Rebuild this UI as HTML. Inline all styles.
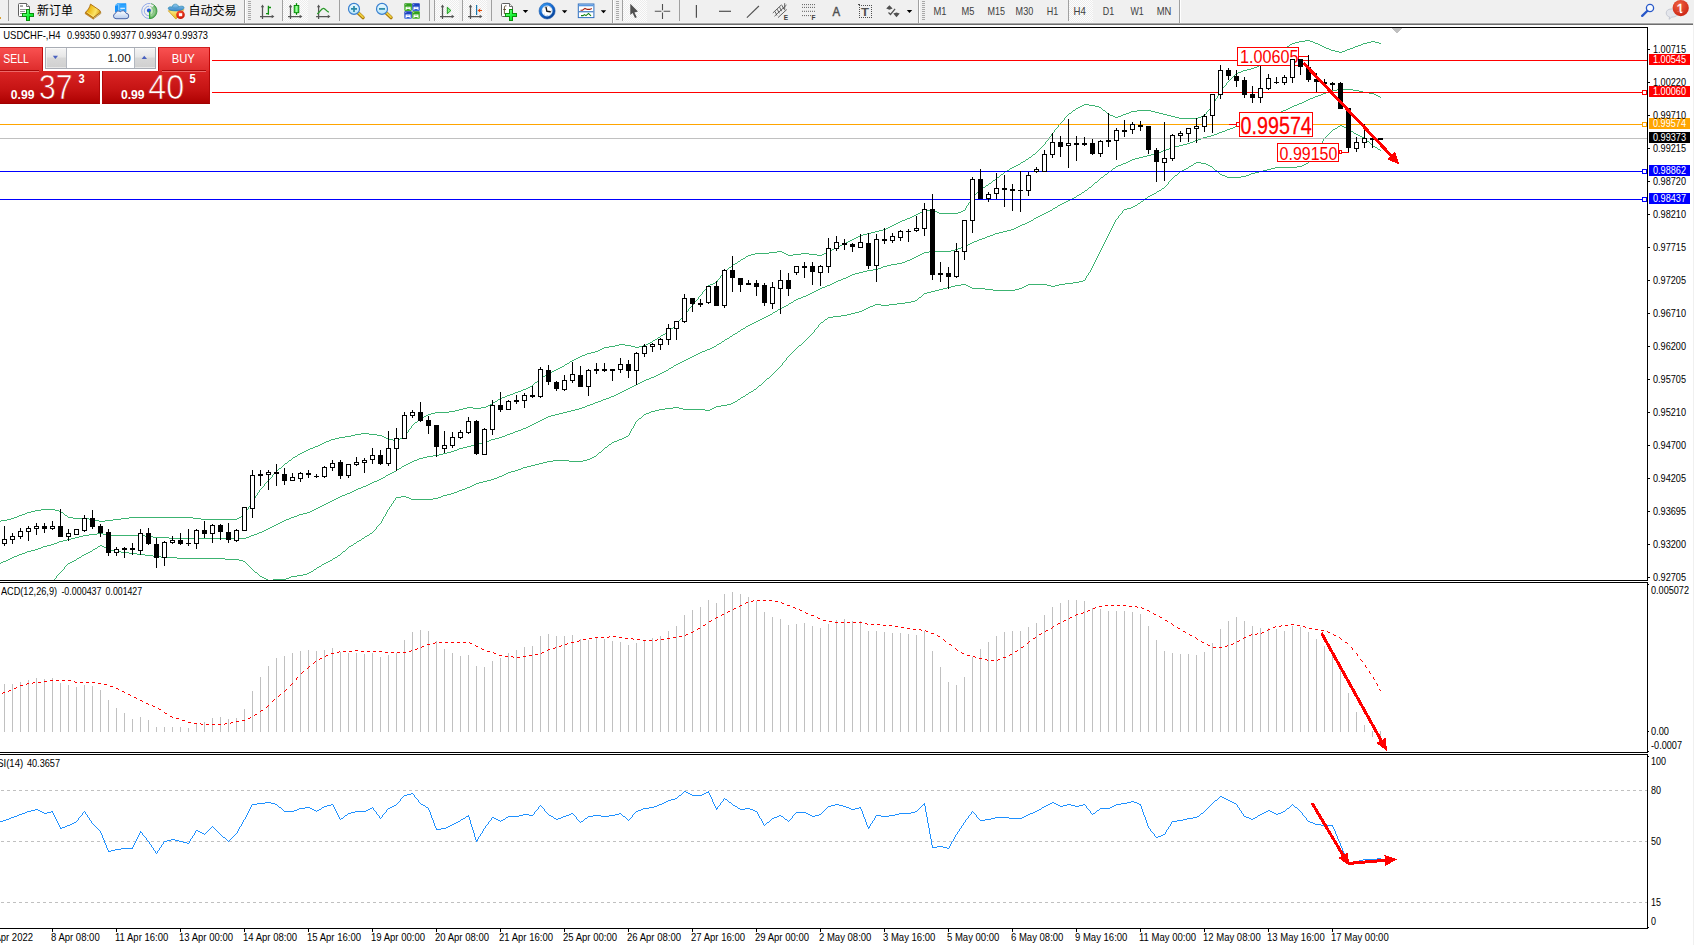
<!DOCTYPE html>
<html><head><meta charset="utf-8"><title>USDCHF-,H4</title>
<style>
html,body{margin:0;padding:0;background:#fff;}
body{width:1694px;height:945px;position:relative;overflow:hidden;font-family:"Liberation Sans", sans-serif;}
#tb{position:absolute;left:0;top:0;width:1694px;height:23px;background:#f0f0f0;}
.ln{position:absolute;left:0;height:1px;}
.cjk{position:absolute;font-family:"Liberation Sans", "Noto Sans CJK SC", sans-serif;font-size:12px;color:#000;line-height:14px;white-space:nowrap;}
.tf{position:absolute;top:5px;font-size:9.7px;line-height:12px;color:#303030;white-space:nowrap;}

</style></head><body>
<div id="tb"></div>
<div class="ln" style="top:22px;width:1693px;background:#f4f4f4"></div>
<div class="ln" style="top:23px;width:1693px;background:#a8a8a8"></div>
<div class="ln" style="top:24px;width:1693px;background:#6e6e6e"></div>
<div style="position:absolute;left:1693px;top:0;width:1px;height:945px;background:#f0f0f0"></div>
<svg width="1694" height="945" viewBox="0 0 1694 945" style="position:absolute;left:0;top:0" shape-rendering="crispEdges"><defs><clipPath id="cm"><rect x="0" y="28" width="1647" height="552"/></clipPath><clipPath id="cd"><rect x="0" y="583" width="1647" height="169"/></clipPath><clipPath id="cr"><rect x="0" y="755" width="1647" height="173"/></clipPath></defs><path d="M0 521h1v1h-1zM1 520h6v1h-6zM7 519h4v1h-4zM11 518h3v1h-3zM14 517h3v1h-3zM17 516h2v1h-2zM19 515h3v1h-3zM22 514h3v1h-3zM25 513h2v1h-2zM27 512h4v1h-4zM31 511h4v1h-4zM35 510h6v1h-6zM41 509h14v1h-14zM55 510h4v1h-4zM59 511h2v1h-2zM61 512h2v1h-2zM63 513h1v1h-1zM64 514h1v1h-1zM65 515h2v1h-2zM67 516h1v1h-1zM68 517h5v1h-5zM73 518h16v1h-16zM89 519h6v1h-6zM95 520h4v1h-4zM99 521h6v1h-6zM105 520h8v1h-8zM113 519h8v1h-8zM121 518h8v1h-8zM129 517h64v1h-64zM193 518h8v1h-8zM201 519h36v1h-36zM237 518h2v1h-2zM239 517h2v1h-2zM241 516h1v1h-1zM242 515h2v1h-2zM244 514h1v1h-1zM245 512h1v2h-1zM246 510h1v2h-1zM247 509h1v1h-1zM248 507h1v2h-1zM249 506h1v1h-1zM250 504h1v2h-1zM251 502h1v2h-1zM252 501h1v1h-1zM253 499h1v2h-1zM254 498h1v1h-1zM255 496h1v2h-1zM256 495h1v1h-1zM257 493h1v2h-1zM258 492h1v1h-1zM259 490h1v2h-1zM260 489h1v1h-1zM261 488h1v1h-1zM262 487h1v1h-1zM263 486h1v1h-1zM264 484h1v2h-1zM265 483h1v1h-1zM266 482h1v1h-1zM267 481h1v1h-1zM268 480h1v1h-1zM269 479h1v1h-1zM270 478h1v1h-1zM271 477h1v1h-1zM272 475h1v2h-1zM273 474h1v1h-1zM274 473h1v1h-1zM275 472h1v1h-1zM276 471h1v1h-1zM277 470h1v1h-1zM278 469h1v1h-1zM279 468h2v1h-2zM281 467h1v1h-1zM282 466h1v1h-1zM283 465h1v1h-1zM284 464h1v1h-1zM285 463h2v1h-2zM287 462h1v1h-1zM288 461h1v1h-1zM289 460h2v1h-2zM291 459h1v1h-1zM292 458h1v1h-1zM293 457h2v1h-2zM295 456h2v1h-2zM297 455h1v1h-1zM298 454h2v1h-2zM300 453h2v1h-2zM302 452h2v1h-2zM304 451h2v1h-2zM306 450h2v1h-2zM308 449h2v1h-2zM310 448h3v1h-3zM313 447h2v1h-2zM315 446h3v1h-3zM318 445h2v1h-2zM320 444h2v1h-2zM322 443h2v1h-2zM324 442h2v1h-2zM326 441h3v1h-3zM329 440h2v1h-2zM331 439h4v1h-4zM335 438h4v1h-4zM339 437h6v1h-6zM345 436h6v1h-6zM351 435h4v1h-4zM355 434h6v1h-6zM361 433h8v1h-8zM369 434h8v1h-8zM377 435h5v1h-5zM382 436h2v1h-2zM384 437h2v1h-2zM386 438h2v1h-2zM388 439h5v1h-5zM393 440h5v1h-5zM398 439h2v1h-2zM400 438h2v1h-2zM402 437h2v1h-2zM404 436h1v1h-1zM405 434h1v2h-1zM406 433h1v1h-1zM407 432h1v1h-1zM408 430h1v2h-1zM409 429h1v1h-1zM410 428h1v1h-1zM411 426h1v2h-1zM412 425h1v1h-1zM413 424h1v1h-1zM414 423h1v1h-1zM415 422h2v1h-2zM417 421h1v1h-1zM418 420h1v1h-1zM419 419h1v1h-1zM420 418h2v1h-2zM422 417h2v1h-2zM424 416h2v1h-2zM426 415h2v1h-2zM428 414h3v1h-3zM431 413h4v1h-4zM435 412h14v1h-14zM449 411h6v1h-6zM455 410h4v1h-4zM459 409h4v1h-4zM463 408h4v1h-4zM467 407h6v1h-6zM473 408h8v1h-8zM481 407h5v1h-5zM486 406h2v1h-2zM488 405h2v1h-2zM490 404h2v1h-2zM492 403h1v1h-1zM493 402h2v1h-2zM495 401h2v1h-2zM497 400h1v1h-1zM498 399h2v1h-2zM500 398h2v1h-2zM502 397h3v1h-3zM505 396h2v1h-2zM507 395h3v1h-3zM510 394h3v1h-3zM513 393h2v1h-2zM515 392h3v1h-3zM518 391h3v1h-3zM521 390h2v1h-2zM523 389h3v1h-3zM526 388h2v1h-2zM528 387h2v1h-2zM530 386h2v1h-2zM532 385h1v1h-1zM533 384h1v1h-1zM534 383h1v1h-1zM535 382h2v1h-2zM537 381h1v1h-1zM538 380h1v1h-1zM539 379h1v1h-1zM540 378h1v1h-1zM541 377h2v1h-2zM543 376h2v1h-2zM545 375h1v1h-1zM546 374h2v1h-2zM548 373h2v1h-2zM550 372h2v1h-2zM552 371h2v1h-2zM554 370h2v1h-2zM556 369h2v1h-2zM558 368h2v1h-2zM560 367h2v1h-2zM562 366h2v1h-2zM564 365h1v1h-1zM565 364h2v1h-2zM567 363h2v1h-2zM569 362h1v1h-1zM570 361h2v1h-2zM572 360h2v1h-2zM574 359h2v1h-2zM576 358h2v1h-2zM578 357h2v1h-2zM580 356h2v1h-2zM582 355h3v1h-3zM585 354h2v1h-2zM587 353h4v1h-4zM591 352h4v1h-4zM595 351h3v1h-3zM598 350h2v1h-2zM600 349h2v1h-2zM602 348h2v1h-2zM604 347h5v1h-5zM609 346h6v1h-6zM615 345h4v1h-4zM619 344h6v1h-6zM625 345h6v1h-6zM631 346h4v1h-4zM635 347h4v1h-4zM639 346h4v1h-4zM643 345h3v1h-3zM646 344h2v1h-2zM648 343h2v1h-2zM650 342h2v1h-2zM652 341h1v1h-1zM653 340h2v1h-2zM655 339h2v1h-2zM657 338h1v1h-1zM658 337h2v1h-2zM660 336h1v1h-1zM661 335h2v1h-2zM663 334h2v1h-2zM665 333h1v1h-1zM666 332h2v1h-2zM668 331h1v1h-1zM669 330h1v1h-1zM670 329h1v1h-1zM671 328h2v1h-2zM673 327h1v1h-1zM674 326h1v1h-1zM675 325h1v1h-1zM676 324h1v1h-1zM677 323h1v1h-1zM678 321h1v2h-1zM679 320h1v1h-1zM680 319h1v1h-1zM681 318h1v1h-1zM682 316h1v2h-1zM683 315h1v1h-1zM684 314h1v1h-1zM685 313h1v1h-1zM686 312h1v1h-1zM687 311h1v1h-1zM688 309h1v2h-1zM689 308h1v1h-1zM690 307h1v1h-1zM691 306h1v1h-1zM692 305h1v1h-1zM693 304h1v1h-1zM694 302h1v2h-1zM695 301h1v1h-1zM696 300h1v1h-1zM697 299h1v1h-1zM698 297h1v2h-1zM699 296h1v1h-1zM700 295h1v1h-1zM701 294h1v1h-1zM702 292h1v2h-1zM703 291h1v1h-1zM704 290h1v1h-1zM705 289h1v1h-1zM706 287h1v2h-1zM707 286h1v1h-1zM708 285h2v1h-2zM710 284h3v1h-3zM713 283h2v1h-2zM715 282h2v1h-2zM717 280h1v2h-1zM718 279h1v1h-1zM719 278h1v1h-1zM720 276h1v2h-1zM721 275h1v1h-1zM722 274h1v1h-1zM723 272h1v2h-1zM724 271h1v1h-1zM725 270h2v1h-2zM727 269h1v1h-1zM728 268h1v1h-1zM729 267h2v1h-2zM731 266h1v1h-1zM732 265h1v1h-1zM733 264h2v1h-2zM735 263h2v1h-2zM737 262h1v1h-1zM738 261h2v1h-2zM740 260h1v1h-1zM741 259h2v1h-2zM743 258h2v1h-2zM745 257h1v1h-1zM746 256h2v1h-2zM748 255h3v1h-3zM751 254h4v1h-4zM755 253h14v1h-14zM769 252h8v1h-8zM777 251h5v1h-5zM782 252h2v1h-2zM784 253h2v1h-2zM786 254h2v1h-2zM788 255h5v1h-5zM793 254h8v1h-8zM801 253h8v1h-8zM809 254h8v1h-8zM817 255h5v1h-5zM822 254h2v1h-2zM824 253h2v1h-2zM826 252h2v1h-2zM828 251h2v1h-2zM830 250h2v1h-2zM832 249h2v1h-2zM834 248h2v1h-2zM836 247h2v1h-2zM838 246h2v1h-2zM840 245h2v1h-2zM842 244h2v1h-2zM844 243h2v1h-2zM846 242h2v1h-2zM848 241h2v1h-2zM850 240h2v1h-2zM852 239h2v1h-2zM854 238h2v1h-2zM856 237h2v1h-2zM858 236h2v1h-2zM860 235h3v1h-3zM863 234h4v1h-4zM867 233h4v1h-4zM871 232h4v1h-4zM875 231h4v1h-4zM879 230h4v1h-4zM883 229h3v1h-3zM886 228h2v1h-2zM888 227h2v1h-2zM890 226h2v1h-2zM892 225h2v1h-2zM894 224h2v1h-2zM896 223h2v1h-2zM898 222h2v1h-2zM900 221h2v1h-2zM902 220h3v1h-3zM905 219h2v1h-2zM907 218h3v1h-3zM910 217h2v1h-2zM912 216h2v1h-2zM914 215h2v1h-2zM916 214h2v1h-2zM918 213h2v1h-2zM920 212h2v1h-2zM922 211h2v1h-2zM924 210h10v1h-10zM934 211h3v1h-3zM937 212h2v1h-2zM939 213h19v1h-19zM958 212h3v1h-3zM961 211h2v1h-2zM963 210h2v1h-2zM965 208h1v2h-1zM966 206h1v2h-1zM967 205h1v1h-1zM968 203h1v2h-1zM969 202h1v1h-1zM970 200h1v2h-1zM971 198h1v2h-1zM972 197h1v1h-1zM973 196h1v1h-1zM974 195h1v1h-1zM975 194h1v1h-1zM976 193h1v1h-1zM977 192h1v1h-1zM978 191h1v1h-1zM979 190h1v1h-1zM980 189h1v1h-1zM981 188h2v1h-2zM983 187h2v1h-2zM985 186h1v1h-1zM986 185h2v1h-2zM988 184h1v1h-1zM989 183h2v1h-2zM991 182h1v1h-1zM992 181h1v1h-1zM993 180h2v1h-2zM995 179h1v1h-1zM996 178h1v1h-1zM997 177h2v1h-2zM999 176h1v1h-1zM1000 175h1v1h-1zM1001 174h2v1h-2zM1003 173h1v1h-1zM1004 172h1v1h-1zM1005 171h2v1h-2zM1007 170h2v1h-2zM1009 169h1v1h-1zM1010 168h2v1h-2zM1012 167h2v1h-2zM1014 166h2v1h-2zM1016 165h2v1h-2zM1018 164h2v1h-2zM1020 163h1v1h-1zM1021 162h2v1h-2zM1023 161h2v1h-2zM1025 160h1v1h-1zM1026 159h2v1h-2zM1028 158h1v1h-1zM1029 157h2v1h-2zM1031 156h1v1h-1zM1032 155h1v1h-1zM1033 154h2v1h-2zM1035 153h1v1h-1zM1036 152h1v1h-1zM1037 151h1v1h-1zM1038 150h1v1h-1zM1039 149h1v1h-1zM1040 148h1v1h-1zM1041 147h1v1h-1zM1042 146h1v1h-1zM1043 145h1v1h-1zM1044 144h1v1h-1zM1045 142h1v2h-1zM1046 141h1v1h-1zM1047 140h1v1h-1zM1048 138h1v2h-1zM1049 137h1v1h-1zM1050 136h1v1h-1zM1051 134h1v2h-1zM1052 133h1v1h-1zM1053 132h1v1h-1zM1054 130h1v2h-1zM1055 129h1v1h-1zM1056 128h1v1h-1zM1057 127h1v1h-1zM1058 125h1v2h-1zM1059 124h1v1h-1zM1060 123h1v1h-1zM1061 122h1v1h-1zM1062 121h1v1h-1zM1063 120h1v1h-1zM1064 118h1v2h-1zM1065 117h1v1h-1zM1066 116h1v1h-1zM1067 115h1v1h-1zM1068 114h1v1h-1zM1069 113h2v1h-2zM1071 112h1v1h-1zM1072 111h1v1h-1zM1073 110h2v1h-2zM1075 109h1v1h-1zM1076 108h2v1h-2zM1078 107h2v1h-2zM1080 106h2v1h-2zM1082 105h2v1h-2zM1084 104h5v1h-5zM1089 105h6v1h-6zM1095 106h4v1h-4zM1099 107h2v1h-2zM1101 108h1v1h-1zM1102 109h1v1h-1zM1103 110h2v1h-2zM1105 111h1v1h-1zM1106 112h1v1h-1zM1107 113h1v1h-1zM1108 114h2v1h-2zM1110 115h3v1h-3zM1113 116h2v1h-2zM1115 117h3v1h-3zM1118 116h3v1h-3zM1121 115h2v1h-2zM1123 114h3v1h-3zM1126 113h3v1h-3zM1129 112h2v1h-2zM1131 111h6v1h-6zM1137 110h14v1h-14zM1151 111h4v1h-4zM1155 112h4v1h-4zM1159 113h4v1h-4zM1163 114h4v1h-4zM1167 115h4v1h-4zM1171 116h4v1h-4zM1175 117h4v1h-4zM1179 118h19v1h-19zM1198 117h3v1h-3zM1201 116h2v1h-2zM1203 115h2v1h-2zM1205 114h1v1h-1zM1206 112h1v2h-1zM1207 111h1v1h-1zM1208 110h1v1h-1zM1209 109h1v1h-1zM1210 107h1v2h-1zM1211 106h1v1h-1zM1212 105h1v1h-1zM1213 103h1v2h-1zM1214 101h1v2h-1zM1215 99h1v2h-1zM1216 98h1v1h-1zM1217 96h1v2h-1zM1218 94h1v2h-1zM1219 92h1v2h-1zM1220 91h1v1h-1zM1221 90h1v1h-1zM1222 88h1v2h-1zM1223 87h1v1h-1zM1224 86h1v1h-1zM1225 85h1v1h-1zM1226 83h1v2h-1zM1227 82h1v1h-1zM1228 81h1v1h-1zM1229 80h1v1h-1zM1230 79h1v1h-1zM1231 78h1v1h-1zM1232 77h1v1h-1zM1233 76h1v1h-1zM1234 75h1v1h-1zM1235 74h1v1h-1zM1236 73h2v1h-2zM1238 72h3v1h-3zM1241 71h2v1h-2zM1243 70h4v1h-4zM1247 69h4v1h-4zM1251 68h3v1h-3zM1254 67h3v1h-3zM1257 66h2v1h-2zM1259 65h2v1h-2zM1261 64h2v1h-2zM1263 63h2v1h-2zM1265 62h1v1h-1zM1266 61h2v1h-2zM1268 60h1v1h-1zM1269 59h2v1h-2zM1271 58h1v1h-1zM1272 57h1v1h-1zM1273 56h2v1h-2zM1275 55h1v1h-1zM1276 54h1v1h-1zM1277 53h2v1h-2zM1279 52h1v1h-1zM1280 51h1v1h-1zM1281 50h2v1h-2zM1283 49h1v1h-1zM1284 48h1v1h-1zM1285 47h2v1h-2zM1287 46h2v1h-2zM1289 45h1v1h-1zM1290 44h2v1h-2zM1292 43h3v1h-3zM1295 42h4v1h-4zM1299 41h6v1h-6zM1305 40h5v1h-5zM1310 41h3v1h-3zM1313 42h2v1h-2zM1315 43h3v1h-3zM1318 44h2v1h-2zM1320 45h2v1h-2zM1322 46h2v1h-2zM1324 47h2v1h-2zM1326 48h3v1h-3zM1329 49h2v1h-2zM1331 50h4v1h-4zM1335 51h4v1h-4zM1339 52h3v1h-3zM1342 51h3v1h-3zM1345 50h2v1h-2zM1347 49h3v1h-3zM1350 48h3v1h-3zM1353 47h2v1h-2zM1355 46h3v1h-3zM1358 45h3v1h-3zM1361 44h2v1h-2zM1363 43h4v1h-4zM1367 42h4v1h-4zM1371 41h4v1h-4zM1375 42h4v1h-4zM1379 43h2v1h-2z" fill="#3cb371"/><path d="M0 563h1v1h-1zM1 562h2v1h-2zM3 561h3v1h-3zM6 560h2v1h-2zM8 559h2v1h-2zM10 558h2v1h-2zM12 557h2v1h-2zM14 556h3v1h-3zM17 555h2v1h-2zM19 554h3v1h-3zM22 553h3v1h-3zM25 552h2v1h-2zM27 551h4v1h-4zM31 550h4v1h-4zM35 549h3v1h-3zM38 548h3v1h-3zM41 547h2v1h-2zM43 546h4v1h-4zM47 545h4v1h-4zM51 544h3v1h-3zM54 543h3v1h-3zM57 542h2v1h-2zM59 541h4v1h-4zM63 540h4v1h-4zM67 539h4v1h-4zM71 538h4v1h-4zM75 537h4v1h-4zM79 536h4v1h-4zM83 535h6v1h-6zM89 534h8v1h-8zM97 533h6v1h-6zM103 534h4v1h-4zM107 535h38v1h-38zM145 536h8v1h-8zM153 537h16v1h-16zM169 538h77v1h-77zM246 537h3v1h-3zM249 536h2v1h-2zM251 535h3v1h-3zM254 534h3v1h-3zM257 533h2v1h-2zM259 532h3v1h-3zM262 531h2v1h-2zM264 530h2v1h-2zM266 529h2v1h-2zM268 528h2v1h-2zM270 527h2v1h-2zM272 526h2v1h-2zM274 525h2v1h-2zM276 524h2v1h-2zM278 523h2v1h-2zM280 522h2v1h-2zM282 521h2v1h-2zM284 520h2v1h-2zM286 519h3v1h-3zM289 518h2v1h-2zM291 517h3v1h-3zM294 516h3v1h-3zM297 515h2v1h-2zM299 514h4v1h-4zM303 513h4v1h-4zM307 512h3v1h-3zM310 511h2v1h-2zM312 510h2v1h-2zM314 509h2v1h-2zM316 508h2v1h-2zM318 507h2v1h-2zM320 506h2v1h-2zM322 505h2v1h-2zM324 504h2v1h-2zM326 503h2v1h-2zM328 502h2v1h-2zM330 501h2v1h-2zM332 500h2v1h-2zM334 499h2v1h-2zM336 498h2v1h-2zM338 497h2v1h-2zM340 496h2v1h-2zM342 495h3v1h-3zM345 494h2v1h-2zM347 493h3v1h-3zM350 492h2v1h-2zM352 491h2v1h-2zM354 490h2v1h-2zM356 489h2v1h-2zM358 488h3v1h-3zM361 487h2v1h-2zM363 486h3v1h-3zM366 485h2v1h-2zM368 484h2v1h-2zM370 483h2v1h-2zM372 482h2v1h-2zM374 481h3v1h-3zM377 480h2v1h-2zM379 479h2v1h-2zM381 478h2v1h-2zM383 477h2v1h-2zM385 476h1v1h-1zM386 475h2v1h-2zM388 474h2v1h-2zM390 473h2v1h-2zM392 472h2v1h-2zM394 471h2v1h-2zM396 470h1v1h-1zM397 469h2v1h-2zM399 468h2v1h-2zM401 467h1v1h-1zM402 466h2v1h-2zM404 465h2v1h-2zM406 464h2v1h-2zM408 463h2v1h-2zM410 462h2v1h-2zM412 461h2v1h-2zM414 460h3v1h-3zM417 459h2v1h-2zM419 458h4v1h-4zM423 457h4v1h-4zM427 456h6v1h-6zM433 455h6v1h-6zM439 454h4v1h-4zM443 453h4v1h-4zM447 452h4v1h-4zM451 451h3v1h-3zM454 450h3v1h-3zM457 449h2v1h-2zM459 448h4v1h-4zM463 447h4v1h-4zM467 446h4v1h-4zM471 445h4v1h-4zM475 444h4v1h-4zM479 443h4v1h-4zM483 442h3v1h-3zM486 441h3v1h-3zM489 440h2v1h-2zM491 439h4v1h-4zM495 438h4v1h-4zM499 437h3v1h-3zM502 436h3v1h-3zM505 435h2v1h-2zM507 434h3v1h-3zM510 433h3v1h-3zM513 432h2v1h-2zM515 431h3v1h-3zM518 430h3v1h-3zM521 429h2v1h-2zM523 428h3v1h-3zM526 427h2v1h-2zM528 426h2v1h-2zM530 425h2v1h-2zM532 424h2v1h-2zM534 423h2v1h-2zM536 422h2v1h-2zM538 421h2v1h-2zM540 420h2v1h-2zM542 419h2v1h-2zM544 418h2v1h-2zM546 417h2v1h-2zM548 416h3v1h-3zM551 415h4v1h-4zM555 414h4v1h-4zM559 413h4v1h-4zM563 412h4v1h-4zM567 411h4v1h-4zM571 410h4v1h-4zM575 409h4v1h-4zM579 408h3v1h-3zM582 407h3v1h-3zM585 406h2v1h-2zM587 405h3v1h-3zM590 404h3v1h-3zM593 403h2v1h-2zM595 402h3v1h-3zM598 401h3v1h-3zM601 400h2v1h-2zM603 399h3v1h-3zM606 398h3v1h-3zM609 397h2v1h-2zM611 396h3v1h-3zM614 395h2v1h-2zM616 394h2v1h-2zM618 393h2v1h-2zM620 392h2v1h-2zM622 391h2v1h-2zM624 390h2v1h-2zM626 389h2v1h-2zM628 388h2v1h-2zM630 387h2v1h-2zM632 386h2v1h-2zM634 385h2v1h-2zM636 384h2v1h-2zM638 383h2v1h-2zM640 382h2v1h-2zM642 381h2v1h-2zM644 380h2v1h-2zM646 379h3v1h-3zM649 378h2v1h-2zM651 377h3v1h-3zM654 376h2v1h-2zM656 375h2v1h-2zM658 374h2v1h-2zM660 373h2v1h-2zM662 372h2v1h-2zM664 371h2v1h-2zM666 370h2v1h-2zM668 369h1v1h-1zM669 368h2v1h-2zM671 367h2v1h-2zM673 366h1v1h-1zM674 365h2v1h-2zM676 364h2v1h-2zM678 363h2v1h-2zM680 362h2v1h-2zM682 361h2v1h-2zM684 360h2v1h-2zM686 359h2v1h-2zM688 358h2v1h-2zM690 357h2v1h-2zM692 356h2v1h-2zM694 355h2v1h-2zM696 354h2v1h-2zM698 353h2v1h-2zM700 352h2v1h-2zM702 351h3v1h-3zM705 350h2v1h-2zM707 349h3v1h-3zM710 348h2v1h-2zM712 347h2v1h-2zM714 346h2v1h-2zM716 345h1v1h-1zM717 344h2v1h-2zM719 343h2v1h-2zM721 342h1v1h-1zM722 341h2v1h-2zM724 340h1v1h-1zM725 339h2v1h-2zM727 338h2v1h-2zM729 337h1v1h-1zM730 336h2v1h-2zM732 335h1v1h-1zM733 334h2v1h-2zM735 333h2v1h-2zM737 332h1v1h-1zM738 331h2v1h-2zM740 330h1v1h-1zM741 329h2v1h-2zM743 328h2v1h-2zM745 327h1v1h-1zM746 326h2v1h-2zM748 325h2v1h-2zM750 324h2v1h-2zM752 323h2v1h-2zM754 322h2v1h-2zM756 321h2v1h-2zM758 320h2v1h-2zM760 319h2v1h-2zM762 318h2v1h-2zM764 317h2v1h-2zM766 316h2v1h-2zM768 315h2v1h-2zM770 314h2v1h-2zM772 313h1v1h-1zM773 312h2v1h-2zM775 311h2v1h-2zM777 310h1v1h-1zM778 309h2v1h-2zM780 308h2v1h-2zM782 307h2v1h-2zM784 306h2v1h-2zM786 305h2v1h-2zM788 304h1v1h-1zM789 303h2v1h-2zM791 302h2v1h-2zM793 301h1v1h-1zM794 300h2v1h-2zM796 299h2v1h-2zM798 298h3v1h-3zM801 297h2v1h-2zM803 296h3v1h-3zM806 295h2v1h-2zM808 294h2v1h-2zM810 293h2v1h-2zM812 292h2v1h-2zM814 291h2v1h-2zM816 290h2v1h-2zM818 289h2v1h-2zM820 288h2v1h-2zM822 287h3v1h-3zM825 286h2v1h-2zM827 285h3v1h-3zM830 284h2v1h-2zM832 283h2v1h-2zM834 282h2v1h-2zM836 281h2v1h-2zM838 280h3v1h-3zM841 279h2v1h-2zM843 278h3v1h-3zM846 277h2v1h-2zM848 276h2v1h-2zM850 275h2v1h-2zM852 274h3v1h-3zM855 273h4v1h-4zM859 272h4v1h-4zM863 271h4v1h-4zM867 270h6v1h-6zM873 269h5v1h-5zM878 268h3v1h-3zM881 267h2v1h-2zM883 266h4v1h-4zM887 265h4v1h-4zM891 264h6v1h-6zM897 263h5v1h-5zM902 262h3v1h-3zM905 261h2v1h-2zM907 260h3v1h-3zM910 259h2v1h-2zM912 258h2v1h-2zM914 257h2v1h-2zM916 256h2v1h-2zM918 255h2v1h-2zM920 254h2v1h-2zM922 253h2v1h-2zM924 252h5v1h-5zM929 251h22v1h-22zM951 250h4v1h-4zM955 249h3v1h-3zM958 248h3v1h-3zM961 247h2v1h-2zM963 246h3v1h-3zM966 245h2v1h-2zM968 244h2v1h-2zM970 243h2v1h-2zM972 242h2v1h-2zM974 241h3v1h-3zM977 240h2v1h-2zM979 239h3v1h-3zM982 238h3v1h-3zM985 237h2v1h-2zM987 236h3v1h-3zM990 235h3v1h-3zM993 234h2v1h-2zM995 233h4v1h-4zM999 232h4v1h-4zM1003 231h4v1h-4zM1007 230h4v1h-4zM1011 229h3v1h-3zM1014 228h2v1h-2zM1016 227h2v1h-2zM1018 226h2v1h-2zM1020 225h2v1h-2zM1022 224h3v1h-3zM1025 223h2v1h-2zM1027 222h2v1h-2zM1029 221h2v1h-2zM1031 220h2v1h-2zM1033 219h1v1h-1zM1034 218h2v1h-2zM1036 217h2v1h-2zM1038 216h2v1h-2zM1040 215h2v1h-2zM1042 214h2v1h-2zM1044 213h2v1h-2zM1046 212h2v1h-2zM1048 211h2v1h-2zM1050 210h2v1h-2zM1052 209h1v1h-1zM1053 208h2v1h-2zM1055 207h2v1h-2zM1057 206h1v1h-1zM1058 205h2v1h-2zM1060 204h2v1h-2zM1062 203h2v1h-2zM1064 202h2v1h-2zM1066 201h2v1h-2zM1068 200h2v1h-2zM1070 199h2v1h-2zM1072 198h2v1h-2zM1074 197h2v1h-2zM1076 196h1v1h-1zM1077 195h2v1h-2zM1079 194h2v1h-2zM1081 193h1v1h-1zM1082 192h2v1h-2zM1084 191h1v1h-1zM1085 190h2v1h-2zM1087 189h1v1h-1zM1088 188h1v1h-1zM1089 187h2v1h-2zM1091 186h1v1h-1zM1092 185h1v1h-1zM1093 184h1v1h-1zM1094 183h1v1h-1zM1095 182h2v1h-2zM1097 181h1v1h-1zM1098 180h1v1h-1zM1099 179h1v1h-1zM1100 178h1v1h-1zM1101 177h2v1h-2zM1103 176h1v1h-1zM1104 175h1v1h-1zM1105 174h2v1h-2zM1107 173h1v1h-1zM1108 172h1v1h-1zM1109 171h2v1h-2zM1111 170h1v1h-1zM1112 169h1v1h-1zM1113 168h2v1h-2zM1115 167h1v1h-1zM1116 166h2v1h-2zM1118 165h3v1h-3zM1121 164h2v1h-2zM1123 163h3v1h-3zM1126 162h2v1h-2zM1128 161h2v1h-2zM1130 160h2v1h-2zM1132 159h3v1h-3zM1135 158h4v1h-4zM1139 157h4v1h-4zM1143 156h4v1h-4zM1147 155h4v1h-4zM1151 154h4v1h-4zM1155 153h3v1h-3zM1158 152h3v1h-3zM1161 151h2v1h-2zM1163 150h3v1h-3zM1166 149h3v1h-3zM1169 148h2v1h-2zM1171 147h4v1h-4zM1175 146h4v1h-4zM1179 145h4v1h-4zM1183 144h4v1h-4zM1187 143h3v1h-3zM1190 142h3v1h-3zM1193 141h2v1h-2zM1195 140h3v1h-3zM1198 139h3v1h-3zM1201 138h2v1h-2zM1203 137h4v1h-4zM1207 136h4v1h-4zM1211 135h3v1h-3zM1214 134h3v1h-3zM1217 133h2v1h-2zM1219 132h3v1h-3zM1222 131h3v1h-3zM1225 130h2v1h-2zM1227 129h3v1h-3zM1230 128h3v1h-3zM1233 127h2v1h-2zM1235 126h3v1h-3zM1238 125h3v1h-3zM1241 124h2v1h-2zM1243 123h3v1h-3zM1246 122h3v1h-3zM1249 121h2v1h-2zM1251 120h4v1h-4zM1255 119h4v1h-4zM1259 118h3v1h-3zM1262 117h3v1h-3zM1265 116h2v1h-2zM1267 115h4v1h-4zM1271 114h4v1h-4zM1275 113h3v1h-3zM1278 112h3v1h-3zM1281 111h2v1h-2zM1283 110h3v1h-3zM1286 109h2v1h-2zM1288 108h2v1h-2zM1290 107h2v1h-2zM1292 106h2v1h-2zM1294 105h3v1h-3zM1297 104h2v1h-2zM1299 103h3v1h-3zM1302 102h2v1h-2zM1304 101h2v1h-2zM1306 100h2v1h-2zM1308 99h2v1h-2zM1310 98h3v1h-3zM1313 97h2v1h-2zM1315 96h3v1h-3zM1318 95h3v1h-3zM1321 94h2v1h-2zM1323 93h3v1h-3zM1326 92h3v1h-3zM1329 91h2v1h-2zM1331 90h6v1h-6zM1337 89h16v1h-16zM1353 90h6v1h-6zM1359 91h4v1h-4zM1363 92h6v1h-6zM1369 93h5v1h-5zM1374 94h2v1h-2zM1376 95h2v1h-2zM1378 96h2v1h-2zM1380 97h1v1h-1z" fill="#3cb371"/><path d="M54 579h1v1h-1zM55 578h1v1h-1zM56 576h1v2h-1zM57 575h1v1h-1zM58 574h1v1h-1zM59 573h1v1h-1zM60 572h1v1h-1zM61 571h1v1h-1zM62 570h1v1h-1zM63 569h1v1h-1zM64 567h1v2h-1zM65 566h1v1h-1zM66 565h1v1h-1zM67 564h1v1h-1zM68 563h2v1h-2zM70 562h2v1h-2zM72 561h2v1h-2zM74 560h2v1h-2zM76 559h1v1h-1zM77 558h2v1h-2zM79 557h2v1h-2zM81 556h1v1h-1zM82 555h2v1h-2zM84 554h2v1h-2zM86 553h2v1h-2zM88 552h2v1h-2zM90 551h2v1h-2zM92 550h1v1h-1zM93 549h2v1h-2zM95 548h2v1h-2zM97 547h1v1h-1zM98 546h2v1h-2zM100 545h2v1h-2zM102 546h2v1h-2zM104 547h2v1h-2zM106 548h2v1h-2zM108 549h3v1h-3zM111 550h4v1h-4zM115 551h6v1h-6zM121 552h8v1h-8zM129 553h8v1h-8zM137 554h8v1h-8zM145 555h8v1h-8zM153 556h8v1h-8zM161 557h16v1h-16zM177 558h48v1h-48zM225 559h14v1h-14zM239 560h4v1h-4zM243 561h2v1h-2zM245 562h1v1h-1zM246 563h1v1h-1zM247 564h1v1h-1zM248 565h1v1h-1zM249 566h1v1h-1zM250 567h1v1h-1zM251 568h1v1h-1zM252 569h1v1h-1zM253 570h1v1h-1zM254 571h1v1h-1zM255 572h2v1h-2zM257 573h1v1h-1zM258 574h1v1h-1zM259 575h1v1h-1zM260 576h2v1h-2zM262 577h2v1h-2zM264 578h2v1h-2zM266 579h2v1h-2zM273 579h13v1h-13zM286 578h3v1h-3zM289 577h2v1h-2zM291 576h6v1h-6zM297 575h6v1h-6zM303 574h4v1h-4zM307 573h2v1h-2zM309 572h2v1h-2zM311 571h2v1h-2zM313 570h1v1h-1zM314 569h2v1h-2zM316 568h1v1h-1zM317 567h2v1h-2zM319 566h2v1h-2zM321 565h1v1h-1zM322 564h2v1h-2zM324 563h2v1h-2zM326 562h2v1h-2zM328 561h2v1h-2zM330 560h2v1h-2zM332 559h1v1h-1zM333 558h2v1h-2zM335 557h2v1h-2zM337 556h1v1h-1zM338 555h2v1h-2zM340 554h1v1h-1zM341 553h1v1h-1zM342 552h1v1h-1zM343 551h2v1h-2zM345 550h1v1h-1zM346 549h1v1h-1zM347 548h1v1h-1zM348 547h1v1h-1zM349 546h2v1h-2zM351 545h2v1h-2zM353 544h1v1h-1zM354 543h2v1h-2zM356 542h1v1h-1zM357 541h2v1h-2zM359 540h2v1h-2zM361 539h1v1h-1zM362 538h2v1h-2zM364 537h1v1h-1zM365 536h2v1h-2zM367 535h2v1h-2zM369 534h1v1h-1zM370 533h2v1h-2zM372 532h1v1h-1zM373 531h1v1h-1zM374 530h1v1h-1zM375 529h1v1h-1zM376 527h1v2h-1zM377 526h1v1h-1zM378 525h1v1h-1zM379 524h1v1h-1zM380 523h1v1h-1zM381 521h1v2h-1zM382 519h1v2h-1zM383 517h1v2h-1zM384 516h1v1h-1zM385 514h1v2h-1zM386 512h1v2h-1zM387 510h1v2h-1zM388 509h1v1h-1zM389 507h1v2h-1zM390 506h1v1h-1zM391 504h1v2h-1zM392 503h1v1h-1zM393 501h1v2h-1zM394 500h1v1h-1zM395 498h1v2h-1zM396 497h5v1h-5zM401 496h5v1h-5zM406 497h3v1h-3zM409 498h2v1h-2zM411 499h22v1h-22zM433 498h5v1h-5zM438 497h3v1h-3zM441 496h2v1h-2zM443 495h4v1h-4zM447 494h4v1h-4zM451 493h3v1h-3zM454 492h3v1h-3zM457 491h2v1h-2zM459 490h3v1h-3zM462 489h3v1h-3zM465 488h2v1h-2zM467 487h3v1h-3zM470 486h2v1h-2zM472 485h2v1h-2zM474 484h2v1h-2zM476 483h3v1h-3zM479 482h4v1h-4zM483 481h4v1h-4zM487 480h4v1h-4zM491 479h3v1h-3zM494 478h3v1h-3zM497 477h2v1h-2zM499 476h3v1h-3zM502 475h2v1h-2zM504 474h2v1h-2zM506 473h2v1h-2zM508 472h3v1h-3zM511 471h4v1h-4zM515 470h3v1h-3zM518 469h3v1h-3zM521 468h2v1h-2zM523 467h4v1h-4zM527 466h4v1h-4zM531 465h4v1h-4zM535 464h4v1h-4zM539 463h4v1h-4zM543 462h4v1h-4zM547 461h6v1h-6zM553 460h16v1h-16zM569 461h14v1h-14zM583 460h4v1h-4zM587 459h3v1h-3zM590 458h2v1h-2zM592 457h2v1h-2zM594 456h2v1h-2zM596 455h1v1h-1zM597 454h1v1h-1zM598 453h1v1h-1zM599 452h2v1h-2zM601 451h1v1h-1zM602 450h1v1h-1zM603 449h1v1h-1zM604 448h1v1h-1zM605 447h2v1h-2zM607 446h1v1h-1zM608 445h1v1h-1zM609 444h2v1h-2zM611 443h1v1h-1zM612 442h2v1h-2zM614 441h3v1h-3zM617 440h2v1h-2zM619 439h3v1h-3zM622 438h2v1h-2zM624 437h2v1h-2zM626 436h2v1h-2zM628 435h1v1h-1zM629 433h1v2h-1zM630 431h1v2h-1zM631 429h1v2h-1zM632 428h1v1h-1zM633 426h1v2h-1zM634 424h1v2h-1zM635 422h1v2h-1zM636 421h1v1h-1zM637 420h1v1h-1zM638 419h1v1h-1zM639 418h2v1h-2zM641 417h1v1h-1zM642 416h1v1h-1zM643 415h1v1h-1zM644 414h2v1h-2zM646 413h3v1h-3zM649 412h2v1h-2zM651 411h4v1h-4zM655 410h4v1h-4zM659 409h6v1h-6zM665 408h8v1h-8zM673 407h6v1h-6zM679 408h4v1h-4zM683 409h22v1h-22zM705 410h5v1h-5zM710 409h2v1h-2zM712 408h2v1h-2zM714 407h2v1h-2zM716 406h5v1h-5zM721 405h6v1h-6zM727 404h4v1h-4zM731 403h2v1h-2zM733 402h2v1h-2zM735 401h2v1h-2zM737 400h1v1h-1zM738 399h2v1h-2zM740 398h1v1h-1zM741 397h2v1h-2zM743 396h2v1h-2zM745 395h1v1h-1zM746 394h2v1h-2zM748 393h1v1h-1zM749 392h2v1h-2zM751 391h2v1h-2zM753 390h1v1h-1zM754 389h2v1h-2zM756 388h1v1h-1zM757 387h1v1h-1zM758 386h1v1h-1zM759 385h2v1h-2zM761 384h1v1h-1zM762 383h1v1h-1zM763 382h1v1h-1zM764 381h1v1h-1zM765 380h1v1h-1zM766 379h1v1h-1zM767 378h2v1h-2zM769 377h1v1h-1zM770 376h1v1h-1zM771 375h1v1h-1zM772 374h1v1h-1zM773 373h1v1h-1zM774 372h1v1h-1zM775 371h1v1h-1zM776 370h1v1h-1zM777 369h1v1h-1zM778 368h1v1h-1zM779 367h1v1h-1zM780 366h1v1h-1zM781 365h1v1h-1zM782 363h1v2h-1zM783 362h1v1h-1zM784 361h1v1h-1zM785 360h1v1h-1zM786 358h1v2h-1zM787 357h1v1h-1zM788 356h1v1h-1zM789 355h1v1h-1zM790 354h1v1h-1zM791 353h1v1h-1zM792 352h1v1h-1zM793 351h1v1h-1zM794 350h1v1h-1zM795 349h1v1h-1zM796 348h1v1h-1zM797 347h1v1h-1zM798 346h1v1h-1zM799 345h2v1h-2zM801 344h1v1h-1zM802 343h1v1h-1zM803 342h1v1h-1zM804 341h1v1h-1zM805 340h1v1h-1zM806 339h1v1h-1zM807 338h1v1h-1zM808 337h1v1h-1zM809 336h1v1h-1zM810 335h1v1h-1zM811 334h1v1h-1zM812 333h1v1h-1zM813 332h1v1h-1zM814 330h1v2h-1zM815 329h1v1h-1zM816 328h1v1h-1zM817 327h1v1h-1zM818 325h1v2h-1zM819 324h1v1h-1zM820 323h1v1h-1zM821 322h2v1h-2zM823 321h1v1h-1zM824 320h1v1h-1zM825 319h2v1h-2zM827 318h1v1h-1zM828 317h5v1h-5zM833 316h8v1h-8zM841 315h6v1h-6zM847 314h4v1h-4zM851 313h4v1h-4zM855 312h4v1h-4zM859 311h3v1h-3zM862 310h2v1h-2zM864 309h2v1h-2zM866 308h2v1h-2zM868 307h2v1h-2zM870 306h3v1h-3zM873 305h2v1h-2zM875 304h6v1h-6zM881 305h8v1h-8zM889 304h8v1h-8zM897 303h8v1h-8zM905 302h6v1h-6zM911 301h4v1h-4zM915 300h2v1h-2zM917 299h1v1h-1zM918 298h1v1h-1zM919 297h2v1h-2zM921 296h1v1h-1zM922 295h1v1h-1zM923 294h1v1h-1zM924 293h3v1h-3zM927 292h4v1h-4zM931 291h4v1h-4zM935 290h4v1h-4zM939 289h4v1h-4zM943 288h4v1h-4zM947 287h4v1h-4zM951 286h4v1h-4zM955 285h6v1h-6zM961 284h5v1h-5zM966 285h2v1h-2zM968 286h2v1h-2zM970 287h2v1h-2zM972 288h13v1h-13zM985 289h8v1h-8zM993 290h22v1h-22zM1015 289h4v1h-4zM1019 288h3v1h-3zM1022 287h2v1h-2zM1024 286h2v1h-2zM1026 285h2v1h-2zM1028 284h19v1h-19zM1047 285h4v1h-4zM1051 286h4v1h-4zM1055 285h4v1h-4zM1059 284h6v1h-6zM1065 283h8v1h-8zM1073 282h6v1h-6zM1079 281h4v1h-4zM1083 280h2v1h-2zM1085 278h1v2h-1zM1086 276h1v2h-1zM1087 275h1v1h-1zM1088 273h1v2h-1zM1089 272h1v1h-1zM1090 270h1v2h-1zM1091 268h1v2h-1zM1092 266h1v2h-1zM1093 264h1v2h-1zM1094 262h1v2h-1zM1095 260h1v2h-1zM1096 258h1v2h-1zM1097 256h1v2h-1zM1098 254h1v2h-1zM1099 252h1v2h-1zM1100 250h1v2h-1zM1101 248h1v2h-1zM1102 246h1v2h-1zM1103 244h1v2h-1zM1104 242h1v2h-1zM1105 240h1v2h-1zM1106 238h1v2h-1zM1107 236h1v2h-1zM1108 234h1v2h-1zM1109 232h1v2h-1zM1110 230h1v2h-1zM1111 228h1v2h-1zM1112 226h1v2h-1zM1113 224h1v2h-1zM1114 222h1v2h-1zM1115 220h1v2h-1zM1116 219h1v1h-1zM1117 218h1v1h-1zM1118 216h1v2h-1zM1119 215h1v1h-1zM1120 214h1v1h-1zM1121 213h1v1h-1zM1122 211h1v2h-1zM1123 210h1v1h-1zM1124 209h3v1h-3zM1127 208h4v1h-4zM1131 207h2v1h-2zM1133 206h2v1h-2zM1135 205h2v1h-2zM1137 204h1v1h-1zM1138 203h2v1h-2zM1140 202h1v1h-1zM1141 201h2v1h-2zM1143 200h1v1h-1zM1144 199h1v1h-1zM1145 198h2v1h-2zM1147 197h1v1h-1zM1148 196h2v1h-2zM1150 195h2v1h-2zM1152 194h2v1h-2zM1154 193h2v1h-2zM1156 192h1v1h-1zM1157 191h2v1h-2zM1159 190h2v1h-2zM1161 189h1v1h-1zM1162 188h2v1h-2zM1164 187h1v1h-1zM1165 186h1v1h-1zM1166 185h1v1h-1zM1167 184h1v1h-1zM1168 182h1v2h-1zM1169 181h1v1h-1zM1170 180h1v1h-1zM1171 179h1v1h-1zM1172 178h1v1h-1zM1173 177h1v1h-1zM1174 176h1v1h-1zM1175 175h2v1h-2zM1177 174h1v1h-1zM1178 173h1v1h-1zM1179 172h1v1h-1zM1180 171h2v1h-2zM1182 170h2v1h-2zM1184 169h2v1h-2zM1186 168h2v1h-2zM1188 167h1v1h-1zM1189 166h2v1h-2zM1191 165h2v1h-2zM1193 164h1v1h-1zM1194 163h2v1h-2zM1196 162h5v1h-5zM1201 163h5v1h-5zM1206 164h2v1h-2zM1208 165h2v1h-2zM1210 166h2v1h-2zM1212 167h1v1h-1zM1213 168h1v1h-1zM1214 169h1v1h-1zM1215 170h2v1h-2zM1217 171h1v1h-1zM1218 172h1v1h-1zM1219 173h1v1h-1zM1220 174h2v1h-2zM1222 175h3v1h-3zM1225 176h2v1h-2zM1227 177h14v1h-14zM1241 176h5v1h-5zM1246 175h3v1h-3zM1249 174h2v1h-2zM1251 173h4v1h-4zM1255 172h4v1h-4zM1259 171h4v1h-4zM1263 170h4v1h-4zM1267 169h4v1h-4zM1271 168h4v1h-4zM1275 167h22v1h-22zM1297 166h5v1h-5zM1302 165h2v1h-2zM1304 164h2v1h-2zM1306 163h2v1h-2zM1308 162h1v1h-1zM1309 161h1v1h-1zM1310 160h1v1h-1zM1311 159h1v1h-1zM1312 157h1v2h-1zM1313 156h1v1h-1zM1314 155h1v1h-1zM1315 154h1v1h-1zM1316 153h1v1h-1zM1317 151h1v2h-1zM1318 149h1v2h-1zM1319 147h1v2h-1zM1320 145h1v2h-1zM1321 143h1v2h-1zM1322 141h1v2h-1zM1323 139h1v2h-1zM1324 138h1v1h-1zM1325 137h1v1h-1zM1326 136h1v1h-1zM1327 135h1v1h-1zM1328 134h1v1h-1zM1329 133h1v1h-1zM1330 132h1v1h-1zM1331 131h1v1h-1zM1332 130h1v1h-1zM1333 129h2v1h-2zM1335 128h2v1h-2zM1337 127h1v1h-1zM1338 126h2v1h-2zM1340 125h2v1h-2zM1342 126h2v1h-2zM1344 127h2v1h-2zM1346 128h2v1h-2zM1348 129h1v1h-1zM1349 130h2v1h-2zM1351 131h2v1h-2zM1353 132h1v1h-1zM1354 133h2v1h-2zM1356 134h2v1h-2zM1358 135h2v1h-2zM1360 136h2v1h-2zM1362 137h2v1h-2zM1364 138h1v1h-1zM1365 139h1v1h-1zM1366 140h1v1h-1zM1367 141h2v1h-2zM1369 142h1v1h-1zM1370 143h1v1h-1zM1371 144h1v1h-1zM1372 145h1v1h-1zM1373 146h2v1h-2zM1375 147h2v1h-2zM1377 148h1v1h-1zM1378 149h2v1h-2zM1380 150h1v1h-1z" fill="#3cb371"/><rect x="212" y="60" width="1435" height="1" fill="#ff0000" /><rect x="212" y="92" width="1435" height="1" fill="#ff0000" /><rect x="0" y="124" width="1647" height="1" fill="#ffa500" /><rect x="0" y="138" width="1647" height="1" fill="#c0c0c0" /><rect x="0" y="171" width="1647" height="1" fill="#0000ff" /><rect x="0" y="199" width="1647" height="1" fill="#0000ff" /><rect x="1237" y="47" width="62" height="19" fill="#ff0000" /><rect x="1238" y="48" width="60" height="17" fill="#fff" /><g shape-rendering="auto" font-family='"Liberation Sans", sans-serif'><text x="1240" y="63" font-size="18" fill="#ff0000"  textLength="58.4" lengthAdjust="spacingAndGlyphs">1.00605</text></g><rect x="1239" y="112" width="74" height="25" fill="#ff0000" /><rect x="1240" y="113" width="72" height="23" fill="#fff" /><g shape-rendering="auto" font-family='"Liberation Sans", sans-serif'><text x="1240.6" y="134" font-size="24" fill="#ff0000" stroke="#ff0000" stroke-width="0.3" textLength="71.2" lengthAdjust="spacingAndGlyphs">0.99574</text></g><rect x="1277" y="143" width="62" height="19" fill="#ff0000" /><rect x="1278" y="144" width="60" height="17" fill="#fff" /><g shape-rendering="auto" font-family='"Liberation Sans", sans-serif'><text x="1279.6" y="159.5" font-size="18" fill="#ff0000"  textLength="57.7" lengthAdjust="spacingAndGlyphs">0.99150</text></g><rect x="1299" y="56" width="10" height="1" fill="#ff0000" /><rect x="1229" y="124" width="8" height="1" fill="#ff0000" /><rect x="1236" y="122" width="4" height="5" fill="#ff0000" /><rect x="1237" y="123" width="2" height="3" fill="#fff" /><rect x="1339" y="152" width="10" height="1" fill="#ff0000" /><rect x="1339" y="150" width="3" height="4" fill="#ff0000" /><rect x="1340" y="151" width="1" height="2" fill="#fff" /><g fill="#000"><rect x="4" y="526" width="1" height="20" fill="#000" /><rect x="2" y="539" width="5" height="5" fill="#000" /><rect x="12" y="533" width="1" height="11" fill="#000" /><rect x="10" y="536" width="5" height="4" fill="#000" /><rect x="20" y="528" width="1" height="11" fill="#000" /><rect x="18" y="531" width="5" height="6" fill="#000" /><rect x="28" y="526" width="1" height="15" fill="#000" /><rect x="26" y="528" width="5" height="4" fill="#000" /><rect x="36" y="523" width="1" height="12" fill="#000" /><rect x="34" y="526" width="5" height="3" fill="#000" /><rect x="44" y="523" width="1" height="10" fill="#000" /><rect x="42" y="526" width="5" height="3" fill="#000" /><rect x="52" y="521" width="1" height="9" fill="#000" /><rect x="50" y="526" width="5" height="3" fill="#000" /><rect x="60" y="509" width="1" height="28" fill="#000" /><rect x="58" y="526" width="5" height="11" fill="#000" /><rect x="68" y="529" width="1" height="12" fill="#000" /><rect x="66" y="533" width="5" height="4" fill="#000" /><rect x="76" y="529" width="1" height="6" fill="#000" /><rect x="74" y="529" width="5" height="6" fill="#000" /><rect x="84" y="515" width="1" height="17" fill="#000" /><rect x="82" y="518" width="5" height="13" fill="#000" /><rect x="92" y="510" width="1" height="19" fill="#000" /><rect x="90" y="518" width="5" height="9" fill="#000" /><rect x="100" y="524" width="1" height="13" fill="#000" /><rect x="98" y="526" width="5" height="7" fill="#000" /><rect x="108" y="529" width="1" height="27" fill="#000" /><rect x="106" y="532" width="5" height="21" fill="#000" /><rect x="116" y="547" width="1" height="9" fill="#000" /><rect x="114" y="549" width="5" height="4" fill="#000" /><rect x="124" y="547" width="1" height="11" fill="#000" /><rect x="122" y="548" width="5" height="2" fill="#000" /><rect x="132" y="543" width="1" height="12" fill="#000" /><rect x="130" y="548" width="5" height="2" fill="#000" /><rect x="140" y="529" width="1" height="26" fill="#000" /><rect x="138" y="533" width="5" height="18" fill="#000" /><rect x="148" y="528" width="1" height="17" fill="#000" /><rect x="146" y="533" width="5" height="11" fill="#000" /><rect x="156" y="538" width="1" height="30" fill="#000" /><rect x="154" y="544" width="5" height="14" fill="#000" /><rect x="164" y="541" width="1" height="25" fill="#000" /><rect x="162" y="542" width="5" height="16" fill="#000" /><rect x="172" y="536" width="1" height="8" fill="#000" /><rect x="170" y="540" width="5" height="3" fill="#000" /><rect x="180" y="533" width="1" height="12" fill="#000" /><rect x="178" y="540" width="5" height="4" fill="#000" /><rect x="188" y="529" width="1" height="17" fill="#000" /><rect x="186" y="543" width="5" height="1" fill="#000" /><rect x="196" y="529" width="1" height="20" fill="#000" /><rect x="194" y="530" width="5" height="14" fill="#000" /><rect x="204" y="521" width="1" height="17" fill="#000" /><rect x="202" y="530" width="5" height="4" fill="#000" /><rect x="212" y="524" width="1" height="19" fill="#000" /><rect x="210" y="525" width="5" height="9" fill="#000" /><rect x="220" y="524" width="1" height="16" fill="#000" /><rect x="218" y="525" width="5" height="7" fill="#000" /><rect x="228" y="523" width="1" height="20" fill="#000" /><rect x="226" y="532" width="5" height="8" fill="#000" /><rect x="236" y="529" width="1" height="13" fill="#000" /><rect x="234" y="530" width="5" height="11" fill="#000" /><rect x="244" y="507" width="1" height="24" fill="#000" /><rect x="242" y="507" width="5" height="24" fill="#000" /><rect x="252" y="470" width="1" height="48" fill="#000" /><rect x="250" y="475" width="5" height="34" fill="#000" /><rect x="260" y="470" width="1" height="16" fill="#000" /><rect x="258" y="474" width="5" height="2" fill="#000" /><rect x="268" y="470" width="1" height="20" fill="#000" /><rect x="266" y="472" width="5" height="3" fill="#000" /><rect x="276" y="464" width="1" height="22" fill="#000" /><rect x="274" y="472" width="5" height="2" fill="#000" /><rect x="284" y="468" width="1" height="17" fill="#000" /><rect x="282" y="474" width="5" height="7" fill="#000" /><rect x="292" y="473" width="1" height="8" fill="#000" /><rect x="290" y="477" width="5" height="4" fill="#000" /><rect x="300" y="472" width="1" height="10" fill="#000" /><rect x="298" y="473" width="5" height="6" fill="#000" /><rect x="308" y="470" width="1" height="8" fill="#000" /><rect x="306" y="473" width="5" height="2" fill="#000" /><rect x="316" y="474" width="1" height="4" fill="#000" /><rect x="314" y="476" width="5" height="1" fill="#000" /><rect x="324" y="466" width="1" height="12" fill="#000" /><rect x="322" y="467" width="5" height="10" fill="#000" /><rect x="332" y="460" width="1" height="11" fill="#000" /><rect x="330" y="463" width="5" height="5" fill="#000" /><rect x="340" y="460" width="1" height="19" fill="#000" /><rect x="338" y="462" width="5" height="14" fill="#000" /><rect x="348" y="464" width="1" height="14" fill="#000" /><rect x="346" y="464" width="5" height="12" fill="#000" /><rect x="356" y="457" width="1" height="9" fill="#000" /><rect x="354" y="462" width="5" height="3" fill="#000" /><rect x="364" y="458" width="1" height="15" fill="#000" /><rect x="362" y="460" width="5" height="3" fill="#000" /><rect x="372" y="448" width="1" height="16" fill="#000" /><rect x="370" y="455" width="5" height="5" fill="#000" /><rect x="380" y="450" width="1" height="15" fill="#000" /><rect x="378" y="455" width="5" height="9" fill="#000" /><rect x="388" y="431" width="1" height="35" fill="#000" /><rect x="386" y="448" width="5" height="16" fill="#000" /><rect x="396" y="428" width="1" height="43" fill="#000" /><rect x="394" y="438" width="5" height="11" fill="#000" /><rect x="404" y="412" width="1" height="27" fill="#000" /><rect x="402" y="415" width="5" height="24" fill="#000" /><rect x="412" y="410" width="1" height="8" fill="#000" /><rect x="410" y="412" width="5" height="4" fill="#000" /><rect x="420" y="402" width="1" height="20" fill="#000" /><rect x="418" y="412" width="5" height="9" fill="#000" /><rect x="428" y="416" width="1" height="18" fill="#000" /><rect x="426" y="420" width="5" height="6" fill="#000" /><rect x="436" y="425" width="1" height="32" fill="#000" /><rect x="434" y="425" width="5" height="22" fill="#000" /><rect x="444" y="431" width="1" height="22" fill="#000" /><rect x="442" y="445" width="5" height="4" fill="#000" /><rect x="452" y="432" width="1" height="16" fill="#000" /><rect x="450" y="437" width="5" height="9" fill="#000" /><rect x="460" y="430" width="1" height="9" fill="#000" /><rect x="458" y="432" width="5" height="6" fill="#000" /><rect x="468" y="417" width="1" height="17" fill="#000" /><rect x="466" y="421" width="5" height="12" fill="#000" /><rect x="476" y="420" width="1" height="35" fill="#000" /><rect x="474" y="421" width="5" height="33" fill="#000" /><rect x="484" y="428" width="1" height="27" fill="#000" /><rect x="482" y="429" width="5" height="26" fill="#000" /><rect x="492" y="400" width="1" height="35" fill="#000" /><rect x="490" y="405" width="5" height="25" fill="#000" /><rect x="500" y="392" width="1" height="20" fill="#000" /><rect x="498" y="405" width="5" height="5" fill="#000" /><rect x="508" y="400" width="1" height="10" fill="#000" /><rect x="506" y="401" width="5" height="9" fill="#000" /><rect x="516" y="395" width="1" height="9" fill="#000" /><rect x="514" y="400" width="5" height="2" fill="#000" /><rect x="524" y="393" width="1" height="15" fill="#000" /><rect x="522" y="395" width="5" height="6" fill="#000" /><rect x="532" y="386" width="1" height="12" fill="#000" /><rect x="530" y="395" width="5" height="2" fill="#000" /><rect x="540" y="367" width="1" height="31" fill="#000" /><rect x="538" y="369" width="5" height="28" fill="#000" /><rect x="548" y="365" width="1" height="20" fill="#000" /><rect x="546" y="370" width="5" height="12" fill="#000" /><rect x="556" y="381" width="1" height="10" fill="#000" /><rect x="554" y="382" width="5" height="7" fill="#000" /><rect x="564" y="375" width="1" height="16" fill="#000" /><rect x="562" y="380" width="5" height="10" fill="#000" /><rect x="572" y="362" width="1" height="21" fill="#000" /><rect x="570" y="374" width="5" height="7" fill="#000" /><rect x="580" y="366" width="1" height="21" fill="#000" /><rect x="578" y="375" width="5" height="12" fill="#000" /><rect x="588" y="369" width="1" height="27" fill="#000" /><rect x="586" y="370" width="5" height="17" fill="#000" /><rect x="596" y="363" width="1" height="11" fill="#000" /><rect x="594" y="369" width="5" height="2" fill="#000" /><rect x="604" y="363" width="1" height="9" fill="#000" /><rect x="602" y="369" width="5" height="2" fill="#000" /><rect x="612" y="369" width="1" height="12" fill="#000" /><rect x="610" y="369" width="5" height="2" fill="#000" /><rect x="620" y="358" width="1" height="15" fill="#000" /><rect x="618" y="364" width="5" height="6" fill="#000" /><rect x="628" y="360" width="1" height="18" fill="#000" /><rect x="626" y="364" width="5" height="7" fill="#000" /><rect x="636" y="352" width="1" height="33" fill="#000" /><rect x="634" y="353" width="5" height="18" fill="#000" /><rect x="644" y="344" width="1" height="13" fill="#000" /><rect x="642" y="346" width="5" height="8" fill="#000" /><rect x="652" y="343" width="1" height="9" fill="#000" /><rect x="650" y="344" width="5" height="3" fill="#000" /><rect x="660" y="338" width="1" height="12" fill="#000" /><rect x="658" y="339" width="5" height="6" fill="#000" /><rect x="668" y="324" width="1" height="21" fill="#000" /><rect x="666" y="328" width="5" height="12" fill="#000" /><rect x="676" y="321" width="1" height="19" fill="#000" /><rect x="674" y="321" width="5" height="8" fill="#000" /><rect x="684" y="294" width="1" height="29" fill="#000" /><rect x="682" y="298" width="5" height="24" fill="#000" /><rect x="692" y="298" width="1" height="14" fill="#000" /><rect x="690" y="298" width="5" height="6" fill="#000" /><rect x="700" y="299" width="1" height="8" fill="#000" /><rect x="698" y="303" width="5" height="2" fill="#000" /><rect x="708" y="286" width="1" height="18" fill="#000" /><rect x="706" y="286" width="5" height="17" fill="#000" /><rect x="716" y="281" width="1" height="25" fill="#000" /><rect x="714" y="286" width="5" height="20" fill="#000" /><rect x="724" y="269" width="1" height="39" fill="#000" /><rect x="722" y="270" width="5" height="36" fill="#000" /><rect x="732" y="256" width="1" height="36" fill="#000" /><rect x="730" y="270" width="5" height="8" fill="#000" /><rect x="740" y="278" width="1" height="14" fill="#000" /><rect x="738" y="278" width="5" height="7" fill="#000" /><rect x="748" y="280" width="1" height="5" fill="#000" /><rect x="746" y="283" width="5" height="2" fill="#000" /><rect x="756" y="280" width="1" height="16" fill="#000" /><rect x="754" y="283" width="5" height="4" fill="#000" /><rect x="764" y="283" width="1" height="23" fill="#000" /><rect x="762" y="285" width="5" height="18" fill="#000" /><rect x="772" y="282" width="1" height="27" fill="#000" /><rect x="770" y="287" width="5" height="17" fill="#000" /><rect x="780" y="270" width="1" height="44" fill="#000" /><rect x="778" y="280" width="5" height="9" fill="#000" /><rect x="788" y="273" width="1" height="23" fill="#000" /><rect x="786" y="280" width="5" height="9" fill="#000" /><rect x="796" y="266" width="1" height="9" fill="#000" /><rect x="794" y="266" width="5" height="7" fill="#000" /><rect x="804" y="262" width="1" height="16" fill="#000" /><rect x="802" y="266" width="5" height="2" fill="#000" /><rect x="812" y="262" width="1" height="23" fill="#000" /><rect x="810" y="266" width="5" height="6" fill="#000" /><rect x="820" y="265" width="1" height="21" fill="#000" /><rect x="818" y="266" width="5" height="7" fill="#000" /><rect x="828" y="238" width="1" height="35" fill="#000" /><rect x="826" y="248" width="5" height="19" fill="#000" /><rect x="836" y="236" width="1" height="15" fill="#000" /><rect x="834" y="242" width="5" height="7" fill="#000" /><rect x="844" y="239" width="1" height="11" fill="#000" /><rect x="842" y="243" width="5" height="2" fill="#000" /><rect x="852" y="243" width="1" height="9" fill="#000" /><rect x="850" y="244" width="5" height="3" fill="#000" /><rect x="860" y="234" width="1" height="14" fill="#000" /><rect x="858" y="242" width="5" height="6" fill="#000" /><rect x="868" y="233" width="1" height="36" fill="#000" /><rect x="866" y="243" width="5" height="23" fill="#000" /><rect x="876" y="234" width="1" height="48" fill="#000" /><rect x="874" y="239" width="5" height="27" fill="#000" /><rect x="884" y="228" width="1" height="16" fill="#000" /><rect x="882" y="239" width="5" height="2" fill="#000" /><rect x="892" y="233" width="1" height="10" fill="#000" /><rect x="890" y="236" width="5" height="5" fill="#000" /><rect x="900" y="230" width="1" height="11" fill="#000" /><rect x="898" y="231" width="5" height="7" fill="#000" /><rect x="908" y="229" width="1" height="13" fill="#000" /><rect x="906" y="231" width="5" height="1" fill="#000" /><rect x="916" y="216" width="1" height="16" fill="#000" /><rect x="914" y="228" width="5" height="3" fill="#000" /><rect x="924" y="203" width="1" height="33" fill="#000" /><rect x="922" y="209" width="5" height="20" fill="#000" /><rect x="932" y="194" width="1" height="86" fill="#000" /><rect x="930" y="209" width="5" height="66" fill="#000" /><rect x="940" y="262" width="1" height="20" fill="#000" /><rect x="938" y="273" width="5" height="2" fill="#000" /><rect x="948" y="267" width="1" height="22" fill="#000" /><rect x="946" y="273" width="5" height="4" fill="#000" /><rect x="956" y="243" width="1" height="35" fill="#000" /><rect x="954" y="251" width="5" height="26" fill="#000" /><rect x="964" y="220" width="1" height="40" fill="#000" /><rect x="962" y="220" width="5" height="32" fill="#000" /><rect x="972" y="177" width="1" height="56" fill="#000" /><rect x="970" y="179" width="5" height="42" fill="#000" /><rect x="980" y="169" width="1" height="30" fill="#000" /><rect x="978" y="179" width="5" height="20" fill="#000" /><rect x="988" y="192" width="1" height="10" fill="#000" /><rect x="986" y="194" width="5" height="5" fill="#000" /><rect x="996" y="173" width="1" height="26" fill="#000" /><rect x="994" y="188" width="5" height="6" fill="#000" /><rect x="1004" y="175" width="1" height="32" fill="#000" /><rect x="1002" y="188" width="5" height="2" fill="#000" /><rect x="1012" y="184" width="1" height="27" fill="#000" /><rect x="1010" y="189" width="5" height="2" fill="#000" /><rect x="1020" y="171" width="1" height="41" fill="#000" /><rect x="1018" y="190" width="5" height="1" fill="#000" /><rect x="1028" y="172" width="1" height="24" fill="#000" /><rect x="1026" y="175" width="5" height="16" fill="#000" /><rect x="1036" y="167" width="1" height="6" fill="#000" /><rect x="1034" y="169" width="5" height="3" fill="#000" /><rect x="1044" y="150" width="1" height="22" fill="#000" /><rect x="1042" y="154" width="5" height="18" fill="#000" /><rect x="1052" y="133" width="1" height="25" fill="#000" /><rect x="1050" y="142" width="5" height="13" fill="#000" /><rect x="1060" y="136" width="1" height="21" fill="#000" /><rect x="1058" y="142" width="5" height="5" fill="#000" /><rect x="1068" y="119" width="1" height="49" fill="#000" /><rect x="1066" y="143" width="5" height="3" fill="#000" /><rect x="1076" y="136" width="1" height="25" fill="#000" /><rect x="1074" y="143" width="5" height="2" fill="#000" /><rect x="1084" y="137" width="1" height="9" fill="#000" /><rect x="1082" y="143" width="5" height="2" fill="#000" /><rect x="1092" y="139" width="1" height="16" fill="#000" /><rect x="1090" y="143" width="5" height="11" fill="#000" /><rect x="1100" y="140" width="1" height="17" fill="#000" /><rect x="1098" y="141" width="5" height="13" fill="#000" /><rect x="1108" y="113" width="1" height="34" fill="#000" /><rect x="1106" y="140" width="5" height="2" fill="#000" /><rect x="1116" y="128" width="1" height="32" fill="#000" /><rect x="1114" y="130" width="5" height="11" fill="#000" /><rect x="1124" y="120" width="1" height="17" fill="#000" /><rect x="1122" y="130" width="5" height="2" fill="#000" /><rect x="1132" y="122" width="1" height="12" fill="#000" /><rect x="1130" y="124" width="5" height="6" fill="#000" /><rect x="1140" y="121" width="1" height="10" fill="#000" /><rect x="1138" y="125" width="5" height="2" fill="#000" /><rect x="1148" y="126" width="1" height="28" fill="#000" /><rect x="1146" y="126" width="5" height="24" fill="#000" /><rect x="1156" y="148" width="1" height="34" fill="#000" /><rect x="1154" y="150" width="5" height="12" fill="#000" /><rect x="1164" y="122" width="1" height="59" fill="#000" /><rect x="1162" y="158" width="5" height="5" fill="#000" /><rect x="1172" y="134" width="1" height="27" fill="#000" /><rect x="1170" y="135" width="5" height="24" fill="#000" /><rect x="1180" y="131" width="1" height="11" fill="#000" /><rect x="1178" y="133" width="5" height="3" fill="#000" /><rect x="1188" y="128" width="1" height="14" fill="#000" /><rect x="1186" y="128" width="5" height="6" fill="#000" /><rect x="1196" y="118" width="1" height="25" fill="#000" /><rect x="1194" y="126" width="5" height="3" fill="#000" /><rect x="1204" y="114" width="1" height="18" fill="#000" /><rect x="1202" y="116" width="5" height="11" fill="#000" /><rect x="1212" y="94" width="1" height="39" fill="#000" /><rect x="1210" y="94" width="5" height="22" fill="#000" /><rect x="1220" y="65" width="1" height="34" fill="#000" /><rect x="1218" y="70" width="5" height="25" fill="#000" /><rect x="1228" y="68" width="1" height="12" fill="#000" /><rect x="1226" y="70" width="5" height="6" fill="#000" /><rect x="1236" y="70" width="1" height="17" fill="#000" /><rect x="1234" y="76" width="5" height="5" fill="#000" /><rect x="1244" y="77" width="1" height="21" fill="#000" /><rect x="1242" y="80" width="5" height="15" fill="#000" /><rect x="1252" y="86" width="1" height="17" fill="#000" /><rect x="1250" y="94" width="5" height="4" fill="#000" /><rect x="1260" y="66" width="1" height="37" fill="#000" /><rect x="1258" y="88" width="5" height="10" fill="#000" /><rect x="1268" y="74" width="1" height="16" fill="#000" /><rect x="1266" y="78" width="5" height="11" fill="#000" /><rect x="1276" y="77" width="1" height="7" fill="#000" /><rect x="1274" y="82" width="5" height="1" fill="#000" /><rect x="1284" y="75" width="1" height="10" fill="#000" /><rect x="1282" y="77" width="5" height="6" fill="#000" /><rect x="1292" y="59" width="1" height="24" fill="#000" /><rect x="1290" y="59" width="5" height="19" fill="#000" /><rect x="1300" y="59" width="1" height="16" fill="#000" /><rect x="1298" y="59" width="5" height="8" fill="#000" /><rect x="1308" y="55" width="1" height="27" fill="#000" /><rect x="1306" y="67" width="5" height="13" fill="#000" /><rect x="1316" y="73" width="1" height="19" fill="#000" /><rect x="1314" y="79" width="5" height="3" fill="#000" /><rect x="1324" y="79" width="1" height="8" fill="#000" /><rect x="1322" y="82" width="5" height="2" fill="#000" /><rect x="1332" y="82" width="1" height="8" fill="#000" /><rect x="1330" y="83" width="5" height="2" fill="#000" /><rect x="1340" y="82" width="1" height="27" fill="#000" /><rect x="1338" y="83" width="5" height="26" fill="#000" /><rect x="1348" y="108" width="1" height="44" fill="#000" /><rect x="1346" y="108" width="5" height="40" fill="#000" /><rect x="1356" y="137" width="1" height="15" fill="#000" /><rect x="1354" y="142" width="5" height="7" fill="#000" /><rect x="1364" y="124" width="1" height="24" fill="#000" /><rect x="1362" y="138" width="5" height="5" fill="#000" /><rect x="1372" y="138" width="1" height="10" fill="#000" /><rect x="1370" y="138" width="5" height="2" fill="#000" /><rect x="1380" y="138" width="1" height="2" fill="#000" /><rect x="1378" y="138" width="5" height="2" fill="#000" /></g><rect x="3" y="540" width="3" height="3" fill="#fff" /><rect x="11" y="537" width="3" height="2" fill="#fff" /><rect x="19" y="532" width="3" height="4" fill="#fff" /><rect x="27" y="529" width="3" height="2" fill="#fff" /><rect x="35" y="527" width="3" height="1" fill="#fff" /><rect x="51" y="527" width="3" height="1" fill="#fff" /><rect x="67" y="534" width="3" height="2" fill="#fff" /><rect x="75" y="530" width="3" height="4" fill="#fff" /><rect x="83" y="519" width="3" height="11" fill="#fff" /><rect x="115" y="550" width="3" height="2" fill="#fff" /><rect x="139" y="534" width="3" height="16" fill="#fff" /><rect x="163" y="543" width="3" height="14" fill="#fff" /><rect x="171" y="541" width="3" height="1" fill="#fff" /><rect x="195" y="531" width="3" height="12" fill="#fff" /><rect x="211" y="526" width="3" height="7" fill="#fff" /><rect x="235" y="531" width="3" height="9" fill="#fff" /><rect x="243" y="508" width="3" height="22" fill="#fff" /><rect x="251" y="476" width="3" height="32" fill="#fff" /><rect x="267" y="473" width="3" height="1" fill="#fff" /><rect x="291" y="478" width="3" height="2" fill="#fff" /><rect x="299" y="474" width="3" height="4" fill="#fff" /><rect x="323" y="468" width="3" height="8" fill="#fff" /><rect x="331" y="464" width="3" height="3" fill="#fff" /><rect x="347" y="465" width="3" height="10" fill="#fff" /><rect x="355" y="463" width="3" height="1" fill="#fff" /><rect x="363" y="461" width="3" height="1" fill="#fff" /><rect x="371" y="456" width="3" height="3" fill="#fff" /><rect x="387" y="449" width="3" height="14" fill="#fff" /><rect x="395" y="439" width="3" height="9" fill="#fff" /><rect x="403" y="416" width="3" height="22" fill="#fff" /><rect x="411" y="413" width="3" height="2" fill="#fff" /><rect x="443" y="446" width="3" height="2" fill="#fff" /><rect x="451" y="438" width="3" height="7" fill="#fff" /><rect x="459" y="433" width="3" height="4" fill="#fff" /><rect x="467" y="422" width="3" height="10" fill="#fff" /><rect x="483" y="430" width="3" height="24" fill="#fff" /><rect x="491" y="406" width="3" height="23" fill="#fff" /><rect x="507" y="402" width="3" height="7" fill="#fff" /><rect x="523" y="396" width="3" height="4" fill="#fff" /><rect x="539" y="370" width="3" height="26" fill="#fff" /><rect x="563" y="381" width="3" height="8" fill="#fff" /><rect x="571" y="375" width="3" height="5" fill="#fff" /><rect x="587" y="371" width="3" height="15" fill="#fff" /><rect x="619" y="365" width="3" height="4" fill="#fff" /><rect x="635" y="354" width="3" height="16" fill="#fff" /><rect x="643" y="347" width="3" height="6" fill="#fff" /><rect x="651" y="345" width="3" height="1" fill="#fff" /><rect x="659" y="340" width="3" height="4" fill="#fff" /><rect x="667" y="329" width="3" height="10" fill="#fff" /><rect x="675" y="322" width="3" height="6" fill="#fff" /><rect x="683" y="299" width="3" height="22" fill="#fff" /><rect x="707" y="287" width="3" height="15" fill="#fff" /><rect x="723" y="271" width="3" height="34" fill="#fff" /><rect x="771" y="288" width="3" height="15" fill="#fff" /><rect x="779" y="281" width="3" height="7" fill="#fff" /><rect x="795" y="267" width="3" height="5" fill="#fff" /><rect x="819" y="267" width="3" height="5" fill="#fff" /><rect x="827" y="249" width="3" height="17" fill="#fff" /><rect x="835" y="243" width="3" height="5" fill="#fff" /><rect x="859" y="243" width="3" height="4" fill="#fff" /><rect x="875" y="240" width="3" height="25" fill="#fff" /><rect x="891" y="237" width="3" height="3" fill="#fff" /><rect x="899" y="232" width="3" height="5" fill="#fff" /><rect x="915" y="229" width="3" height="1" fill="#fff" /><rect x="923" y="210" width="3" height="18" fill="#fff" /><rect x="955" y="252" width="3" height="24" fill="#fff" /><rect x="963" y="221" width="3" height="30" fill="#fff" /><rect x="971" y="180" width="3" height="40" fill="#fff" /><rect x="987" y="195" width="3" height="3" fill="#fff" /><rect x="995" y="189" width="3" height="4" fill="#fff" /><rect x="1027" y="176" width="3" height="14" fill="#fff" /><rect x="1035" y="170" width="3" height="1" fill="#fff" /><rect x="1043" y="155" width="3" height="16" fill="#fff" /><rect x="1051" y="143" width="3" height="11" fill="#fff" /><rect x="1067" y="144" width="3" height="1" fill="#fff" /><rect x="1099" y="142" width="3" height="11" fill="#fff" /><rect x="1115" y="131" width="3" height="9" fill="#fff" /><rect x="1131" y="125" width="3" height="4" fill="#fff" /><rect x="1163" y="159" width="3" height="3" fill="#fff" /><rect x="1171" y="136" width="3" height="22" fill="#fff" /><rect x="1179" y="134" width="3" height="1" fill="#fff" /><rect x="1187" y="129" width="3" height="4" fill="#fff" /><rect x="1195" y="127" width="3" height="1" fill="#fff" /><rect x="1203" y="117" width="3" height="9" fill="#fff" /><rect x="1211" y="95" width="3" height="20" fill="#fff" /><rect x="1219" y="71" width="3" height="23" fill="#fff" /><rect x="1259" y="89" width="3" height="8" fill="#fff" /><rect x="1267" y="79" width="3" height="9" fill="#fff" /><rect x="1283" y="78" width="3" height="4" fill="#fff" /><rect x="1291" y="60" width="3" height="17" fill="#fff" /><rect x="1355" y="143" width="3" height="5" fill="#fff" /><rect x="1363" y="139" width="3" height="3" fill="#fff" /><g fill="#c0c0c0"><rect x="4" y="684" width="1" height="48"/><rect x="12" y="684" width="1" height="48"/><rect x="20" y="682" width="1" height="50"/><rect x="28" y="680" width="1" height="52"/><rect x="36" y="678" width="1" height="54"/><rect x="44" y="679" width="1" height="53"/><rect x="52" y="678" width="1" height="54"/><rect x="60" y="683" width="1" height="49"/><rect x="68" y="685" width="1" height="47"/><rect x="76" y="687" width="1" height="45"/><rect x="84" y="685" width="1" height="47"/><rect x="92" y="686" width="1" height="46"/><rect x="100" y="690" width="1" height="42"/><rect x="108" y="700" width="1" height="32"/><rect x="116" y="708" width="1" height="24"/><rect x="124" y="713" width="1" height="19"/><rect x="132" y="719" width="1" height="13"/><rect x="140" y="717" width="1" height="15"/><rect x="148" y="720" width="1" height="12"/><rect x="156" y="727" width="1" height="5"/><rect x="164" y="727" width="1" height="5"/><rect x="172" y="727" width="1" height="5"/><rect x="180" y="727" width="1" height="5"/><rect x="188" y="728" width="1" height="4"/><rect x="196" y="724" width="1" height="8"/><rect x="204" y="722" width="1" height="10"/><rect x="212" y="718" width="1" height="14"/><rect x="220" y="717" width="1" height="15"/><rect x="228" y="719" width="1" height="13"/><rect x="236" y="718" width="1" height="14"/><rect x="244" y="709" width="1" height="23"/><rect x="252" y="691" width="1" height="41"/><rect x="260" y="677" width="1" height="55"/><rect x="268" y="666" width="1" height="66"/><rect x="276" y="658" width="1" height="74"/><rect x="284" y="656" width="1" height="76"/><rect x="292" y="653" width="1" height="79"/><rect x="300" y="651" width="1" height="81"/><rect x="308" y="650" width="1" height="82"/><rect x="316" y="651" width="1" height="81"/><rect x="324" y="650" width="1" height="82"/><rect x="332" y="648" width="1" height="84"/><rect x="340" y="652" width="1" height="80"/><rect x="348" y="653" width="1" height="79"/><rect x="356" y="653" width="1" height="79"/><rect x="364" y="654" width="1" height="78"/><rect x="372" y="653" width="1" height="79"/><rect x="380" y="657" width="1" height="75"/><rect x="388" y="655" width="1" height="77"/><rect x="396" y="653" width="1" height="79"/><rect x="404" y="640" width="1" height="92"/><rect x="412" y="632" width="1" height="100"/><rect x="420" y="630" width="1" height="102"/><rect x="428" y="631" width="1" height="101"/><rect x="436" y="641" width="1" height="91"/><rect x="444" y="649" width="1" height="83"/><rect x="452" y="653" width="1" height="79"/><rect x="460" y="656" width="1" height="76"/><rect x="468" y="655" width="1" height="77"/><rect x="476" y="666" width="1" height="66"/><rect x="484" y="667" width="1" height="65"/><rect x="492" y="661" width="1" height="71"/><rect x="500" y="658" width="1" height="74"/><rect x="508" y="653" width="1" height="79"/><rect x="516" y="650" width="1" height="82"/><rect x="524" y="647" width="1" height="85"/><rect x="532" y="646" width="1" height="86"/><rect x="540" y="636" width="1" height="96"/><rect x="548" y="634" width="1" height="98"/><rect x="556" y="636" width="1" height="96"/><rect x="564" y="636" width="1" height="96"/><rect x="572" y="635" width="1" height="97"/><rect x="580" y="639" width="1" height="93"/><rect x="588" y="640" width="1" height="92"/><rect x="596" y="638" width="1" height="94"/><rect x="604" y="639" width="1" height="93"/><rect x="612" y="641" width="1" height="91"/><rect x="620" y="642" width="1" height="90"/><rect x="628" y="645" width="1" height="87"/><rect x="636" y="643" width="1" height="89"/><rect x="644" y="641" width="1" height="91"/><rect x="652" y="638" width="1" height="94"/><rect x="660" y="636" width="1" height="96"/><rect x="668" y="631" width="1" height="101"/><rect x="676" y="626" width="1" height="106"/><rect x="684" y="615" width="1" height="117"/><rect x="692" y="610" width="1" height="122"/><rect x="700" y="607" width="1" height="125"/><rect x="708" y="600" width="1" height="132"/><rect x="716" y="603" width="1" height="129"/><rect x="724" y="594" width="1" height="138"/><rect x="732" y="592" width="1" height="140"/><rect x="740" y="594" width="1" height="138"/><rect x="748" y="597" width="1" height="135"/><rect x="756" y="601" width="1" height="131"/><rect x="764" y="612" width="1" height="120"/><rect x="772" y="617" width="1" height="115"/><rect x="780" y="619" width="1" height="113"/><rect x="788" y="625" width="1" height="107"/><rect x="796" y="624" width="1" height="108"/><rect x="804" y="623" width="1" height="109"/><rect x="812" y="626" width="1" height="106"/><rect x="820" y="628" width="1" height="104"/><rect x="828" y="624" width="1" height="108"/><rect x="836" y="620" width="1" height="112"/><rect x="844" y="619" width="1" height="113"/><rect x="852" y="621" width="1" height="111"/><rect x="860" y="621" width="1" height="111"/><rect x="868" y="631" width="1" height="101"/><rect x="876" y="631" width="1" height="101"/><rect x="884" y="632" width="1" height="100"/><rect x="892" y="633" width="1" height="99"/><rect x="900" y="633" width="1" height="99"/><rect x="908" y="634" width="1" height="98"/><rect x="916" y="635" width="1" height="97"/><rect x="924" y="631" width="1" height="101"/><rect x="932" y="651" width="1" height="81"/><rect x="940" y="667" width="1" height="65"/><rect x="948" y="682" width="1" height="50"/><rect x="956" y="685" width="1" height="47"/><rect x="964" y="677" width="1" height="55"/><rect x="972" y="657" width="1" height="75"/><rect x="980" y="649" width="1" height="83"/><rect x="988" y="642" width="1" height="90"/><rect x="996" y="636" width="1" height="96"/><rect x="1004" y="632" width="1" height="100"/><rect x="1012" y="631" width="1" height="101"/><rect x="1020" y="631" width="1" height="101"/><rect x="1028" y="627" width="1" height="105"/><rect x="1036" y="623" width="1" height="109"/><rect x="1044" y="615" width="1" height="117"/><rect x="1052" y="607" width="1" height="125"/><rect x="1060" y="603" width="1" height="129"/><rect x="1068" y="600" width="1" height="132"/><rect x="1076" y="600" width="1" height="132"/><rect x="1084" y="601" width="1" height="131"/><rect x="1092" y="608" width="1" height="124"/><rect x="1100" y="609" width="1" height="123"/><rect x="1108" y="611" width="1" height="121"/><rect x="1116" y="611" width="1" height="121"/><rect x="1124" y="611" width="1" height="121"/><rect x="1132" y="612" width="1" height="120"/><rect x="1140" y="614" width="1" height="118"/><rect x="1148" y="626" width="1" height="106"/><rect x="1156" y="640" width="1" height="92"/><rect x="1164" y="651" width="1" height="81"/><rect x="1172" y="653" width="1" height="79"/><rect x="1180" y="654" width="1" height="78"/><rect x="1188" y="654" width="1" height="78"/><rect x="1196" y="655" width="1" height="77"/><rect x="1204" y="652" width="1" height="80"/><rect x="1212" y="643" width="1" height="89"/><rect x="1220" y="629" width="1" height="103"/><rect x="1228" y="621" width="1" height="111"/><rect x="1236" y="617" width="1" height="115"/><rect x="1244" y="621" width="1" height="111"/><rect x="1252" y="626" width="1" height="106"/><rect x="1260" y="628" width="1" height="104"/><rect x="1268" y="628" width="1" height="104"/><rect x="1276" y="629" width="1" height="103"/><rect x="1284" y="631" width="1" height="101"/><rect x="1292" y="626" width="1" height="106"/><rect x="1300" y="627" width="1" height="105"/><rect x="1308" y="632" width="1" height="100"/><rect x="1316" y="639" width="1" height="93"/><rect x="1324" y="646" width="1" height="86"/><rect x="1332" y="654" width="1" height="78"/><rect x="1340" y="669" width="1" height="63"/><rect x="1348" y="693" width="1" height="39"/><rect x="1356" y="712" width="1" height="20"/><rect x="1364" y="725" width="1" height="7"/><rect x="1372" y="731" width="1" height="6"/><rect x="1380" y="731" width="1" height="5"/></g><path d="M2 693h1v1h-1zM3 692h2v1h-2zM8 691h1v1h-1zM9 690h2v1h-2zM14 688h2v1h-2zM16 687h1v1h-1zM20 685h3v1h-3zM26 684h1v1h-1zM27 683h2v1h-2zM32 683h1v1h-1zM33 682h2v1h-2zM38 682h3v1h-3zM44 681h3v1h-3zM50 680h3v1h-3zM56 680h3v1h-3zM62 680h3v1h-3zM68 680h3v1h-3zM74 681h1v1h-1zM75 682h2v1h-2zM80 682h3v1h-3zM86 682h3v1h-3zM92 682h3v1h-3zM98 683h3v1h-3zM104 684h3v1h-3zM110 686h3v1h-3zM116 688h2v1h-2zM118 689h1v1h-1zM122 691h2v1h-2zM124 692h1v1h-1zM128 694h2v1h-2zM130 695h1v1h-1zM134 697h2v1h-2zM136 698h1v1h-1zM140 700h2v1h-2zM142 701h1v1h-1zM146 703h2v1h-2zM148 704h1v1h-1zM152 705h1v1h-1zM153 706h2v1h-2zM158 708h1v1h-1zM159 709h2v1h-2zM164 712h1v1h-1zM165 713h2v1h-2zM170 716h2v1h-2zM172 717h1v1h-1zM176 718h3v1h-3zM182 720h3v1h-3zM188 722h3v1h-3zM194 723h3v1h-3zM200 723h1v1h-1zM201 724h2v1h-2zM206 724h3v1h-3zM212 724h3v1h-3zM218 724h3v1h-3zM224 724h1v1h-1zM225 723h2v1h-2zM230 723h1v1h-1zM231 722h2v1h-2zM236 721h3v1h-3zM242 720h3v1h-3zM248 718h2v1h-2zM250 717h1v1h-1zM254 715h1v1h-1zM255 714h2v1h-2zM260 711h1v1h-1zM261 710h2v1h-2zM266 707h1v1h-1zM267 706h1v1h-1zM268 705h1v1h-1zM272 701h1v1h-1zM273 700h1v1h-1zM274 699h1v1h-1zM278 696h1v1h-1zM279 695h1v1h-1zM280 694h1v1h-1zM284 691h1v1h-1zM285 690h1v1h-1zM286 689h1v1h-1zM290 685h1v1h-1zM291 684h1v1h-1zM292 683h1v1h-1zM296 678h1v2h-1zM297 677h1v1h-1zM301 673h1v1h-1zM302 672h1v1h-1zM303 671h1v1h-1zM307 668h1v1h-1zM308 667h1v1h-1zM309 666h1v1h-1zM313 663h1v1h-1zM314 662h1v1h-1zM315 661h1v1h-1zM319 659h1v1h-1zM320 658h2v1h-2zM325 656h1v1h-1zM326 655h2v1h-2zM331 653h3v1h-3zM337 652h2v1h-2zM339 651h1v1h-1zM343 651h3v1h-3zM349 651h3v1h-3zM355 650h3v1h-3zM361 651h3v1h-3zM367 651h3v1h-3zM373 651h3v1h-3zM379 651h3v1h-3zM385 652h3v1h-3zM391 652h3v1h-3zM397 652h3v1h-3zM403 652h3v1h-3zM409 651h2v1h-2zM411 650h1v1h-1zM415 649h2v1h-2zM417 648h1v1h-1zM421 647h1v1h-1zM422 646h2v1h-2zM427 644h3v1h-3zM433 643h2v1h-2zM435 642h1v1h-1zM439 642h3v1h-3zM445 642h3v1h-3zM451 642h3v1h-3zM457 642h3v1h-3zM463 642h3v1h-3zM469 642h1v1h-1zM470 643h2v1h-2zM475 645h1v1h-1zM476 646h2v1h-2zM481 648h1v1h-1zM482 649h2v1h-2zM487 651h3v1h-3zM493 652h1v1h-1zM494 653h2v1h-2zM499 655h3v1h-3zM505 656h3v1h-3zM511 656h2v1h-2zM513 657h1v1h-1zM517 657h3v1h-3zM523 656h3v1h-3zM529 655h3v1h-3zM535 654h3v1h-3zM541 653h1v1h-1zM542 652h2v1h-2zM547 650h1v1h-1zM548 649h2v1h-2zM553 648h2v1h-2zM555 647h1v1h-1zM559 646h2v1h-2zM561 645h1v1h-1zM565 644h2v1h-2zM567 643h1v1h-1zM571 642h3v1h-3zM577 641h2v1h-2zM579 640h1v1h-1zM583 639h3v1h-3zM589 638h3v1h-3zM595 637h3v1h-3zM601 637h3v1h-3zM607 637h2v1h-2zM609 636h1v1h-1zM613 636h3v1h-3zM619 637h3v1h-3zM625 638h3v1h-3zM631 638h2v1h-2zM633 639h1v1h-1zM637 639h3v1h-3zM643 640h3v1h-3zM649 640h3v1h-3zM655 640h2v1h-2zM657 639h1v1h-1zM661 639h3v1h-3zM667 638h3v1h-3zM673 637h3v1h-3zM679 636h3v1h-3zM685 635h1v1h-1zM686 634h2v1h-2zM691 632h2v1h-2zM693 631h1v1h-1zM697 629h1v1h-1zM698 628h2v1h-2zM703 625h2v1h-2zM705 624h1v1h-1zM709 621h2v1h-2zM711 620h1v1h-1zM715 618h1v1h-1zM716 617h2v1h-2zM721 615h1v1h-1zM722 614h2v1h-2zM727 612h1v1h-1zM728 611h2v1h-2zM733 609h1v1h-1zM734 608h2v1h-2zM739 606h1v1h-1zM740 605h2v1h-2zM745 603h1v1h-1zM746 602h2v1h-2zM751 601h2v1h-2zM753 600h1v1h-1zM757 600h3v1h-3zM763 600h3v1h-3zM769 600h3v1h-3zM775 601h3v1h-3zM781 602h1v1h-1zM782 603h2v1h-2zM787 605h3v1h-3zM793 607h2v1h-2zM795 608h1v1h-1zM799 609h1v1h-1zM800 610h2v1h-2zM805 612h1v1h-1zM806 613h2v1h-2zM811 615h3v1h-3zM817 617h1v1h-1zM818 618h2v1h-2zM823 620h3v1h-3zM829 621h3v1h-3zM835 622h3v1h-3zM841 622h3v1h-3zM847 622h3v1h-3zM853 622h3v1h-3zM859 622h3v1h-3zM865 623h2v1h-2zM867 624h1v1h-1zM871 624h3v1h-3zM877 624h3v1h-3zM883 625h3v1h-3zM889 625h3v1h-3zM895 626h3v1h-3zM901 627h3v1h-3zM907 628h3v1h-3zM913 629h3v1h-3zM919 629h2v1h-2zM921 630h1v1h-1zM925 630h1v1h-1zM926 631h2v1h-2zM931 633h3v1h-3zM937 635h1v1h-1zM938 636h2v1h-2zM943 639h1v1h-1zM944 640h1v1h-1zM945 641h1v1h-1zM949 644h2v1h-2zM951 645h1v1h-1zM955 648h1v1h-1zM956 649h1v1h-1zM957 650h1v1h-1zM961 652h1v1h-1zM962 653h2v1h-2zM967 655h3v1h-3zM973 656h2v1h-2zM975 657h1v1h-1zM979 658h3v1h-3zM985 659h2v1h-2zM987 660h1v1h-1zM991 660h3v1h-3zM997 660h1v1h-1zM998 659h2v1h-2zM1003 657h3v1h-3zM1009 655h1v1h-1zM1010 654h2v1h-2zM1015 651h2v1h-2zM1017 650h1v1h-1zM1021 647h2v1h-2zM1023 646h1v1h-1zM1027 643h1v1h-1zM1028 642h1v1h-1zM1029 641h1v1h-1zM1033 638h2v1h-2zM1035 637h1v1h-1zM1039 634h2v1h-2zM1041 633h1v1h-1zM1045 631h1v1h-1zM1046 630h2v1h-2zM1051 628h1v1h-1zM1052 627h1v1h-1zM1053 626h1v1h-1zM1057 624h1v1h-1zM1058 623h2v1h-2zM1063 621h1v1h-1zM1064 620h2v1h-2zM1069 618h1v1h-1zM1070 617h2v1h-2zM1075 615h1v1h-1zM1076 614h2v1h-2zM1081 613h2v1h-2zM1083 612h1v1h-1zM1087 611h1v1h-1zM1088 610h2v1h-2zM1093 608h2v1h-2zM1095 607h1v1h-1zM1099 606h3v1h-3zM1105 605h3v1h-3zM1111 605h3v1h-3zM1117 605h3v1h-3zM1123 605h3v1h-3zM1129 606h3v1h-3zM1135 606h2v1h-2zM1137 607h1v1h-1zM1141 607h1v1h-1zM1142 608h2v1h-2zM1147 610h2v1h-2zM1149 611h1v1h-1zM1153 613h1v1h-1zM1154 614h2v1h-2zM1159 616h1v1h-1zM1160 617h2v1h-2zM1165 620h2v1h-2zM1167 621h1v1h-1zM1171 623h1v1h-1zM1172 624h1v1h-1zM1173 625h1v1h-1zM1177 627h1v1h-1zM1178 628h2v1h-2zM1183 631h2v1h-2zM1185 632h1v1h-1zM1189 634h1v1h-1zM1190 635h2v1h-2zM1195 637h1v1h-1zM1196 638h1v1h-1zM1197 639h1v1h-1zM1201 641h1v1h-1zM1202 642h2v1h-2zM1207 644h1v1h-1zM1208 645h2v1h-2zM1213 647h3v1h-3zM1219 647h3v1h-3zM1225 646h2v1h-2zM1227 645h1v1h-1zM1231 644h2v1h-2zM1233 643h1v1h-1zM1237 641h2v1h-2zM1239 640h1v1h-1zM1243 638h1v1h-1zM1244 637h2v1h-2zM1249 635h2v1h-2zM1251 634h1v1h-1zM1255 634h2v1h-2zM1257 633h1v1h-1zM1261 633h1v1h-1zM1262 632h2v1h-2zM1267 630h1v1h-1zM1268 629h2v1h-2zM1273 627h2v1h-2zM1275 626h1v1h-1zM1279 626h2v1h-2zM1281 625h1v1h-1zM1285 625h3v1h-3zM1291 624h3v1h-3zM1297 625h3v1h-3zM1303 626h2v1h-2zM1305 627h1v1h-1zM1309 628h3v1h-3zM1315 629h3v1h-3zM1321 630h3v1h-3zM1327 631h1v1h-1zM1328 632h2v1h-2zM1333 634h1v1h-1zM1334 635h2v1h-2zM1339 637h1v1h-1zM1340 638h1v1h-1zM1341 639h1v1h-1zM1345 642h2v1h-2zM1347 643h1v1h-1zM1351 647h1v1h-1zM1352 648h1v2h-1zM1356 653h1v1h-1zM1357 654h1v2h-1zM1360 659h1v1h-1zM1361 660h1v1h-1zM1362 661h1v1h-1zM1365 665h1v2h-1zM1366 667h1v1h-1zM1369 671h1v2h-1zM1370 673h1v1h-1zM1373 677h1v2h-1zM1374 679h1v1h-1zM1376 683h1v1h-1zM1377 684h1v2h-1zM1379 689h1v1h-1zM1380 690h1v1h-1z" fill="#ff0000"/><path d="M1 790h3v1h-3zM7 790h3v1h-3zM13 790h3v1h-3zM19 790h3v1h-3zM25 790h3v1h-3zM31 790h3v1h-3zM37 790h3v1h-3zM43 790h3v1h-3zM49 790h3v1h-3zM55 790h3v1h-3zM61 790h3v1h-3zM67 790h3v1h-3zM73 790h3v1h-3zM79 790h3v1h-3zM85 790h3v1h-3zM91 790h3v1h-3zM97 790h3v1h-3zM103 790h3v1h-3zM109 790h3v1h-3zM115 790h3v1h-3zM121 790h3v1h-3zM127 790h3v1h-3zM133 790h3v1h-3zM139 790h3v1h-3zM145 790h3v1h-3zM151 790h3v1h-3zM157 790h3v1h-3zM163 790h3v1h-3zM169 790h3v1h-3zM175 790h3v1h-3zM181 790h3v1h-3zM187 790h3v1h-3zM193 790h3v1h-3zM199 790h3v1h-3zM205 790h3v1h-3zM211 790h3v1h-3zM217 790h3v1h-3zM223 790h3v1h-3zM229 790h3v1h-3zM235 790h3v1h-3zM241 790h3v1h-3zM247 790h3v1h-3zM253 790h3v1h-3zM259 790h3v1h-3zM265 790h3v1h-3zM271 790h3v1h-3zM277 790h3v1h-3zM283 790h3v1h-3zM289 790h3v1h-3zM295 790h3v1h-3zM301 790h3v1h-3zM307 790h3v1h-3zM313 790h3v1h-3zM319 790h3v1h-3zM325 790h3v1h-3zM331 790h3v1h-3zM337 790h3v1h-3zM343 790h3v1h-3zM349 790h3v1h-3zM355 790h3v1h-3zM361 790h3v1h-3zM367 790h3v1h-3zM373 790h3v1h-3zM379 790h3v1h-3zM385 790h3v1h-3zM391 790h3v1h-3zM397 790h3v1h-3zM403 790h3v1h-3zM409 790h3v1h-3zM415 790h3v1h-3zM421 790h3v1h-3zM427 790h3v1h-3zM433 790h3v1h-3zM439 790h3v1h-3zM445 790h3v1h-3zM451 790h3v1h-3zM457 790h3v1h-3zM463 790h3v1h-3zM469 790h3v1h-3zM475 790h3v1h-3zM481 790h3v1h-3zM487 790h3v1h-3zM493 790h3v1h-3zM499 790h3v1h-3zM505 790h3v1h-3zM511 790h3v1h-3zM517 790h3v1h-3zM523 790h3v1h-3zM529 790h3v1h-3zM535 790h3v1h-3zM541 790h3v1h-3zM547 790h3v1h-3zM553 790h3v1h-3zM559 790h3v1h-3zM565 790h3v1h-3zM571 790h3v1h-3zM577 790h3v1h-3zM583 790h3v1h-3zM589 790h3v1h-3zM595 790h3v1h-3zM601 790h3v1h-3zM607 790h3v1h-3zM613 790h3v1h-3zM619 790h3v1h-3zM625 790h3v1h-3zM631 790h3v1h-3zM637 790h3v1h-3zM643 790h3v1h-3zM649 790h3v1h-3zM655 790h3v1h-3zM661 790h3v1h-3zM667 790h3v1h-3zM673 790h3v1h-3zM679 790h3v1h-3zM685 790h3v1h-3zM691 790h3v1h-3zM697 790h3v1h-3zM703 790h3v1h-3zM709 790h3v1h-3zM715 790h3v1h-3zM721 790h3v1h-3zM727 790h3v1h-3zM733 790h3v1h-3zM739 790h3v1h-3zM745 790h3v1h-3zM751 790h3v1h-3zM757 790h3v1h-3zM763 790h3v1h-3zM769 790h3v1h-3zM775 790h3v1h-3zM781 790h3v1h-3zM787 790h3v1h-3zM793 790h3v1h-3zM799 790h3v1h-3zM805 790h3v1h-3zM811 790h3v1h-3zM817 790h3v1h-3zM823 790h3v1h-3zM829 790h3v1h-3zM835 790h3v1h-3zM841 790h3v1h-3zM847 790h3v1h-3zM853 790h3v1h-3zM859 790h3v1h-3zM865 790h3v1h-3zM871 790h3v1h-3zM877 790h3v1h-3zM883 790h3v1h-3zM889 790h3v1h-3zM895 790h3v1h-3zM901 790h3v1h-3zM907 790h3v1h-3zM913 790h3v1h-3zM919 790h3v1h-3zM925 790h3v1h-3zM931 790h3v1h-3zM937 790h3v1h-3zM943 790h3v1h-3zM949 790h3v1h-3zM955 790h3v1h-3zM961 790h3v1h-3zM967 790h3v1h-3zM973 790h3v1h-3zM979 790h3v1h-3zM985 790h3v1h-3zM991 790h3v1h-3zM997 790h3v1h-3zM1003 790h3v1h-3zM1009 790h3v1h-3zM1015 790h3v1h-3zM1021 790h3v1h-3zM1027 790h3v1h-3zM1033 790h3v1h-3zM1039 790h3v1h-3zM1045 790h3v1h-3zM1051 790h3v1h-3zM1057 790h3v1h-3zM1063 790h3v1h-3zM1069 790h3v1h-3zM1075 790h3v1h-3zM1081 790h3v1h-3zM1087 790h3v1h-3zM1093 790h3v1h-3zM1099 790h3v1h-3zM1105 790h3v1h-3zM1111 790h3v1h-3zM1117 790h3v1h-3zM1123 790h3v1h-3zM1129 790h3v1h-3zM1135 790h3v1h-3zM1141 790h3v1h-3zM1147 790h3v1h-3zM1153 790h3v1h-3zM1159 790h3v1h-3zM1165 790h3v1h-3zM1171 790h3v1h-3zM1177 790h3v1h-3zM1183 790h3v1h-3zM1189 790h3v1h-3zM1195 790h3v1h-3zM1201 790h3v1h-3zM1207 790h3v1h-3zM1213 790h3v1h-3zM1219 790h3v1h-3zM1225 790h3v1h-3zM1231 790h3v1h-3zM1237 790h3v1h-3zM1243 790h3v1h-3zM1249 790h3v1h-3zM1255 790h3v1h-3zM1261 790h3v1h-3zM1267 790h3v1h-3zM1273 790h3v1h-3zM1279 790h3v1h-3zM1285 790h3v1h-3zM1291 790h3v1h-3zM1297 790h3v1h-3zM1303 790h3v1h-3zM1309 790h3v1h-3zM1315 790h3v1h-3zM1321 790h3v1h-3zM1327 790h3v1h-3zM1333 790h3v1h-3zM1339 790h3v1h-3zM1345 790h3v1h-3zM1351 790h3v1h-3zM1357 790h3v1h-3zM1363 790h3v1h-3zM1369 790h3v1h-3zM1375 790h3v1h-3zM1381 790h3v1h-3zM1387 790h3v1h-3zM1393 790h3v1h-3zM1399 790h3v1h-3zM1405 790h3v1h-3zM1411 790h3v1h-3zM1417 790h3v1h-3zM1423 790h3v1h-3zM1429 790h3v1h-3zM1435 790h3v1h-3zM1441 790h3v1h-3zM1447 790h3v1h-3zM1453 790h3v1h-3zM1459 790h3v1h-3zM1465 790h3v1h-3zM1471 790h3v1h-3zM1477 790h3v1h-3zM1483 790h3v1h-3zM1489 790h3v1h-3zM1495 790h3v1h-3zM1501 790h3v1h-3zM1507 790h3v1h-3zM1513 790h3v1h-3zM1519 790h3v1h-3zM1525 790h3v1h-3zM1531 790h3v1h-3zM1537 790h3v1h-3zM1543 790h3v1h-3zM1549 790h3v1h-3zM1555 790h3v1h-3zM1561 790h3v1h-3zM1567 790h3v1h-3zM1573 790h3v1h-3zM1579 790h3v1h-3zM1585 790h3v1h-3zM1591 790h3v1h-3zM1597 790h3v1h-3zM1603 790h3v1h-3zM1609 790h3v1h-3zM1615 790h3v1h-3zM1621 790h3v1h-3zM1627 790h3v1h-3zM1633 790h3v1h-3zM1639 790h3v1h-3zM1645 790h3v1h-3z" fill="#c0c0c0"/><path d="M1 841h3v1h-3zM7 841h3v1h-3zM13 841h3v1h-3zM19 841h3v1h-3zM25 841h3v1h-3zM31 841h3v1h-3zM37 841h3v1h-3zM43 841h3v1h-3zM49 841h3v1h-3zM55 841h3v1h-3zM61 841h3v1h-3zM67 841h3v1h-3zM73 841h3v1h-3zM79 841h3v1h-3zM85 841h3v1h-3zM91 841h3v1h-3zM97 841h3v1h-3zM103 841h3v1h-3zM109 841h3v1h-3zM115 841h3v1h-3zM121 841h3v1h-3zM127 841h3v1h-3zM133 841h3v1h-3zM139 841h3v1h-3zM145 841h3v1h-3zM151 841h3v1h-3zM157 841h3v1h-3zM163 841h3v1h-3zM169 841h3v1h-3zM175 841h3v1h-3zM181 841h3v1h-3zM187 841h3v1h-3zM193 841h3v1h-3zM199 841h3v1h-3zM205 841h3v1h-3zM211 841h3v1h-3zM217 841h3v1h-3zM223 841h3v1h-3zM229 841h3v1h-3zM235 841h3v1h-3zM241 841h3v1h-3zM247 841h3v1h-3zM253 841h3v1h-3zM259 841h3v1h-3zM265 841h3v1h-3zM271 841h3v1h-3zM277 841h3v1h-3zM283 841h3v1h-3zM289 841h3v1h-3zM295 841h3v1h-3zM301 841h3v1h-3zM307 841h3v1h-3zM313 841h3v1h-3zM319 841h3v1h-3zM325 841h3v1h-3zM331 841h3v1h-3zM337 841h3v1h-3zM343 841h3v1h-3zM349 841h3v1h-3zM355 841h3v1h-3zM361 841h3v1h-3zM367 841h3v1h-3zM373 841h3v1h-3zM379 841h3v1h-3zM385 841h3v1h-3zM391 841h3v1h-3zM397 841h3v1h-3zM403 841h3v1h-3zM409 841h3v1h-3zM415 841h3v1h-3zM421 841h3v1h-3zM427 841h3v1h-3zM433 841h3v1h-3zM439 841h3v1h-3zM445 841h3v1h-3zM451 841h3v1h-3zM457 841h3v1h-3zM463 841h3v1h-3zM469 841h3v1h-3zM475 841h3v1h-3zM481 841h3v1h-3zM487 841h3v1h-3zM493 841h3v1h-3zM499 841h3v1h-3zM505 841h3v1h-3zM511 841h3v1h-3zM517 841h3v1h-3zM523 841h3v1h-3zM529 841h3v1h-3zM535 841h3v1h-3zM541 841h3v1h-3zM547 841h3v1h-3zM553 841h3v1h-3zM559 841h3v1h-3zM565 841h3v1h-3zM571 841h3v1h-3zM577 841h3v1h-3zM583 841h3v1h-3zM589 841h3v1h-3zM595 841h3v1h-3zM601 841h3v1h-3zM607 841h3v1h-3zM613 841h3v1h-3zM619 841h3v1h-3zM625 841h3v1h-3zM631 841h3v1h-3zM637 841h3v1h-3zM643 841h3v1h-3zM649 841h3v1h-3zM655 841h3v1h-3zM661 841h3v1h-3zM667 841h3v1h-3zM673 841h3v1h-3zM679 841h3v1h-3zM685 841h3v1h-3zM691 841h3v1h-3zM697 841h3v1h-3zM703 841h3v1h-3zM709 841h3v1h-3zM715 841h3v1h-3zM721 841h3v1h-3zM727 841h3v1h-3zM733 841h3v1h-3zM739 841h3v1h-3zM745 841h3v1h-3zM751 841h3v1h-3zM757 841h3v1h-3zM763 841h3v1h-3zM769 841h3v1h-3zM775 841h3v1h-3zM781 841h3v1h-3zM787 841h3v1h-3zM793 841h3v1h-3zM799 841h3v1h-3zM805 841h3v1h-3zM811 841h3v1h-3zM817 841h3v1h-3zM823 841h3v1h-3zM829 841h3v1h-3zM835 841h3v1h-3zM841 841h3v1h-3zM847 841h3v1h-3zM853 841h3v1h-3zM859 841h3v1h-3zM865 841h3v1h-3zM871 841h3v1h-3zM877 841h3v1h-3zM883 841h3v1h-3zM889 841h3v1h-3zM895 841h3v1h-3zM901 841h3v1h-3zM907 841h3v1h-3zM913 841h3v1h-3zM919 841h3v1h-3zM925 841h3v1h-3zM931 841h3v1h-3zM937 841h3v1h-3zM943 841h3v1h-3zM949 841h3v1h-3zM955 841h3v1h-3zM961 841h3v1h-3zM967 841h3v1h-3zM973 841h3v1h-3zM979 841h3v1h-3zM985 841h3v1h-3zM991 841h3v1h-3zM997 841h3v1h-3zM1003 841h3v1h-3zM1009 841h3v1h-3zM1015 841h3v1h-3zM1021 841h3v1h-3zM1027 841h3v1h-3zM1033 841h3v1h-3zM1039 841h3v1h-3zM1045 841h3v1h-3zM1051 841h3v1h-3zM1057 841h3v1h-3zM1063 841h3v1h-3zM1069 841h3v1h-3zM1075 841h3v1h-3zM1081 841h3v1h-3zM1087 841h3v1h-3zM1093 841h3v1h-3zM1099 841h3v1h-3zM1105 841h3v1h-3zM1111 841h3v1h-3zM1117 841h3v1h-3zM1123 841h3v1h-3zM1129 841h3v1h-3zM1135 841h3v1h-3zM1141 841h3v1h-3zM1147 841h3v1h-3zM1153 841h3v1h-3zM1159 841h3v1h-3zM1165 841h3v1h-3zM1171 841h3v1h-3zM1177 841h3v1h-3zM1183 841h3v1h-3zM1189 841h3v1h-3zM1195 841h3v1h-3zM1201 841h3v1h-3zM1207 841h3v1h-3zM1213 841h3v1h-3zM1219 841h3v1h-3zM1225 841h3v1h-3zM1231 841h3v1h-3zM1237 841h3v1h-3zM1243 841h3v1h-3zM1249 841h3v1h-3zM1255 841h3v1h-3zM1261 841h3v1h-3zM1267 841h3v1h-3zM1273 841h3v1h-3zM1279 841h3v1h-3zM1285 841h3v1h-3zM1291 841h3v1h-3zM1297 841h3v1h-3zM1303 841h3v1h-3zM1309 841h3v1h-3zM1315 841h3v1h-3zM1321 841h3v1h-3zM1327 841h3v1h-3zM1333 841h3v1h-3zM1339 841h3v1h-3zM1345 841h3v1h-3zM1351 841h3v1h-3zM1357 841h3v1h-3zM1363 841h3v1h-3zM1369 841h3v1h-3zM1375 841h3v1h-3zM1381 841h3v1h-3zM1387 841h3v1h-3zM1393 841h3v1h-3zM1399 841h3v1h-3zM1405 841h3v1h-3zM1411 841h3v1h-3zM1417 841h3v1h-3zM1423 841h3v1h-3zM1429 841h3v1h-3zM1435 841h3v1h-3zM1441 841h3v1h-3zM1447 841h3v1h-3zM1453 841h3v1h-3zM1459 841h3v1h-3zM1465 841h3v1h-3zM1471 841h3v1h-3zM1477 841h3v1h-3zM1483 841h3v1h-3zM1489 841h3v1h-3zM1495 841h3v1h-3zM1501 841h3v1h-3zM1507 841h3v1h-3zM1513 841h3v1h-3zM1519 841h3v1h-3zM1525 841h3v1h-3zM1531 841h3v1h-3zM1537 841h3v1h-3zM1543 841h3v1h-3zM1549 841h3v1h-3zM1555 841h3v1h-3zM1561 841h3v1h-3zM1567 841h3v1h-3zM1573 841h3v1h-3zM1579 841h3v1h-3zM1585 841h3v1h-3zM1591 841h3v1h-3zM1597 841h3v1h-3zM1603 841h3v1h-3zM1609 841h3v1h-3zM1615 841h3v1h-3zM1621 841h3v1h-3zM1627 841h3v1h-3zM1633 841h3v1h-3zM1639 841h3v1h-3zM1645 841h3v1h-3z" fill="#c0c0c0"/><path d="M1 902h3v1h-3zM7 902h3v1h-3zM13 902h3v1h-3zM19 902h3v1h-3zM25 902h3v1h-3zM31 902h3v1h-3zM37 902h3v1h-3zM43 902h3v1h-3zM49 902h3v1h-3zM55 902h3v1h-3zM61 902h3v1h-3zM67 902h3v1h-3zM73 902h3v1h-3zM79 902h3v1h-3zM85 902h3v1h-3zM91 902h3v1h-3zM97 902h3v1h-3zM103 902h3v1h-3zM109 902h3v1h-3zM115 902h3v1h-3zM121 902h3v1h-3zM127 902h3v1h-3zM133 902h3v1h-3zM139 902h3v1h-3zM145 902h3v1h-3zM151 902h3v1h-3zM157 902h3v1h-3zM163 902h3v1h-3zM169 902h3v1h-3zM175 902h3v1h-3zM181 902h3v1h-3zM187 902h3v1h-3zM193 902h3v1h-3zM199 902h3v1h-3zM205 902h3v1h-3zM211 902h3v1h-3zM217 902h3v1h-3zM223 902h3v1h-3zM229 902h3v1h-3zM235 902h3v1h-3zM241 902h3v1h-3zM247 902h3v1h-3zM253 902h3v1h-3zM259 902h3v1h-3zM265 902h3v1h-3zM271 902h3v1h-3zM277 902h3v1h-3zM283 902h3v1h-3zM289 902h3v1h-3zM295 902h3v1h-3zM301 902h3v1h-3zM307 902h3v1h-3zM313 902h3v1h-3zM319 902h3v1h-3zM325 902h3v1h-3zM331 902h3v1h-3zM337 902h3v1h-3zM343 902h3v1h-3zM349 902h3v1h-3zM355 902h3v1h-3zM361 902h3v1h-3zM367 902h3v1h-3zM373 902h3v1h-3zM379 902h3v1h-3zM385 902h3v1h-3zM391 902h3v1h-3zM397 902h3v1h-3zM403 902h3v1h-3zM409 902h3v1h-3zM415 902h3v1h-3zM421 902h3v1h-3zM427 902h3v1h-3zM433 902h3v1h-3zM439 902h3v1h-3zM445 902h3v1h-3zM451 902h3v1h-3zM457 902h3v1h-3zM463 902h3v1h-3zM469 902h3v1h-3zM475 902h3v1h-3zM481 902h3v1h-3zM487 902h3v1h-3zM493 902h3v1h-3zM499 902h3v1h-3zM505 902h3v1h-3zM511 902h3v1h-3zM517 902h3v1h-3zM523 902h3v1h-3zM529 902h3v1h-3zM535 902h3v1h-3zM541 902h3v1h-3zM547 902h3v1h-3zM553 902h3v1h-3zM559 902h3v1h-3zM565 902h3v1h-3zM571 902h3v1h-3zM577 902h3v1h-3zM583 902h3v1h-3zM589 902h3v1h-3zM595 902h3v1h-3zM601 902h3v1h-3zM607 902h3v1h-3zM613 902h3v1h-3zM619 902h3v1h-3zM625 902h3v1h-3zM631 902h3v1h-3zM637 902h3v1h-3zM643 902h3v1h-3zM649 902h3v1h-3zM655 902h3v1h-3zM661 902h3v1h-3zM667 902h3v1h-3zM673 902h3v1h-3zM679 902h3v1h-3zM685 902h3v1h-3zM691 902h3v1h-3zM697 902h3v1h-3zM703 902h3v1h-3zM709 902h3v1h-3zM715 902h3v1h-3zM721 902h3v1h-3zM727 902h3v1h-3zM733 902h3v1h-3zM739 902h3v1h-3zM745 902h3v1h-3zM751 902h3v1h-3zM757 902h3v1h-3zM763 902h3v1h-3zM769 902h3v1h-3zM775 902h3v1h-3zM781 902h3v1h-3zM787 902h3v1h-3zM793 902h3v1h-3zM799 902h3v1h-3zM805 902h3v1h-3zM811 902h3v1h-3zM817 902h3v1h-3zM823 902h3v1h-3zM829 902h3v1h-3zM835 902h3v1h-3zM841 902h3v1h-3zM847 902h3v1h-3zM853 902h3v1h-3zM859 902h3v1h-3zM865 902h3v1h-3zM871 902h3v1h-3zM877 902h3v1h-3zM883 902h3v1h-3zM889 902h3v1h-3zM895 902h3v1h-3zM901 902h3v1h-3zM907 902h3v1h-3zM913 902h3v1h-3zM919 902h3v1h-3zM925 902h3v1h-3zM931 902h3v1h-3zM937 902h3v1h-3zM943 902h3v1h-3zM949 902h3v1h-3zM955 902h3v1h-3zM961 902h3v1h-3zM967 902h3v1h-3zM973 902h3v1h-3zM979 902h3v1h-3zM985 902h3v1h-3zM991 902h3v1h-3zM997 902h3v1h-3zM1003 902h3v1h-3zM1009 902h3v1h-3zM1015 902h3v1h-3zM1021 902h3v1h-3zM1027 902h3v1h-3zM1033 902h3v1h-3zM1039 902h3v1h-3zM1045 902h3v1h-3zM1051 902h3v1h-3zM1057 902h3v1h-3zM1063 902h3v1h-3zM1069 902h3v1h-3zM1075 902h3v1h-3zM1081 902h3v1h-3zM1087 902h3v1h-3zM1093 902h3v1h-3zM1099 902h3v1h-3zM1105 902h3v1h-3zM1111 902h3v1h-3zM1117 902h3v1h-3zM1123 902h3v1h-3zM1129 902h3v1h-3zM1135 902h3v1h-3zM1141 902h3v1h-3zM1147 902h3v1h-3zM1153 902h3v1h-3zM1159 902h3v1h-3zM1165 902h3v1h-3zM1171 902h3v1h-3zM1177 902h3v1h-3zM1183 902h3v1h-3zM1189 902h3v1h-3zM1195 902h3v1h-3zM1201 902h3v1h-3zM1207 902h3v1h-3zM1213 902h3v1h-3zM1219 902h3v1h-3zM1225 902h3v1h-3zM1231 902h3v1h-3zM1237 902h3v1h-3zM1243 902h3v1h-3zM1249 902h3v1h-3zM1255 902h3v1h-3zM1261 902h3v1h-3zM1267 902h3v1h-3zM1273 902h3v1h-3zM1279 902h3v1h-3zM1285 902h3v1h-3zM1291 902h3v1h-3zM1297 902h3v1h-3zM1303 902h3v1h-3zM1309 902h3v1h-3zM1315 902h3v1h-3zM1321 902h3v1h-3zM1327 902h3v1h-3zM1333 902h3v1h-3zM1339 902h3v1h-3zM1345 902h3v1h-3zM1351 902h3v1h-3zM1357 902h3v1h-3zM1363 902h3v1h-3zM1369 902h3v1h-3zM1375 902h3v1h-3zM1381 902h3v1h-3zM1387 902h3v1h-3zM1393 902h3v1h-3zM1399 902h3v1h-3zM1405 902h3v1h-3zM1411 902h3v1h-3zM1417 902h3v1h-3zM1423 902h3v1h-3zM1429 902h3v1h-3zM1435 902h3v1h-3zM1441 902h3v1h-3zM1447 902h3v1h-3zM1453 902h3v1h-3zM1459 902h3v1h-3zM1465 902h3v1h-3zM1471 902h3v1h-3zM1477 902h3v1h-3zM1483 902h3v1h-3zM1489 902h3v1h-3zM1495 902h3v1h-3zM1501 902h3v1h-3zM1507 902h3v1h-3zM1513 902h3v1h-3zM1519 902h3v1h-3zM1525 902h3v1h-3zM1531 902h3v1h-3zM1537 902h3v1h-3zM1543 902h3v1h-3zM1549 902h3v1h-3zM1555 902h3v1h-3zM1561 902h3v1h-3zM1567 902h3v1h-3zM1573 902h3v1h-3zM1579 902h3v1h-3zM1585 902h3v1h-3zM1591 902h3v1h-3zM1597 902h3v1h-3zM1603 902h3v1h-3zM1609 902h3v1h-3zM1615 902h3v1h-3zM1621 902h3v1h-3zM1627 902h3v1h-3zM1633 902h3v1h-3zM1639 902h3v1h-3zM1645 902h3v1h-3z" fill="#c0c0c0"/><path d="M0 821h3v1h-3zM3 820h3v1h-3zM6 819h3v1h-3zM9 818h2v1h-2zM11 817h3v1h-3zM14 816h3v1h-3zM17 815h2v1h-2zM19 814h3v1h-3zM22 813h3v1h-3zM25 812h2v1h-2zM27 811h4v1h-4zM31 810h4v1h-4zM35 809h3v1h-3zM38 810h2v1h-2zM40 811h2v1h-2zM42 812h2v1h-2zM44 813h3v1h-3zM47 812h4v1h-4zM51 811h2v1h-2zM52 812h1v1h-1zM53 813h1v2h-1zM54 815h1v2h-1zM55 817h1v2h-1zM56 819h1v2h-1zM57 821h1v2h-1zM58 823h1v2h-1zM59 825h1v2h-1zM60 827h1v1h-1zM60 828h2v1h-2zM62 827h3v1h-3zM65 826h2v1h-2zM67 825h3v1h-3zM70 824h2v1h-2zM72 823h2v1h-2zM74 822h2v1h-2zM76 821h1v1h-1zM77 820h1v1h-1zM78 818h1v2h-1zM79 817h1v1h-1zM80 816h1v1h-1zM81 815h1v1h-1zM82 813h1v2h-1zM83 812h1v1h-1zM84 811h1v1h-1zM85 812h1v2h-1zM86 814h1v1h-1zM87 815h1v2h-1zM88 817h1v1h-1zM89 818h1v2h-1zM90 820h1v1h-1zM91 821h1v2h-1zM92 823h1v1h-1zM93 824h1v1h-1zM94 825h1v1h-1zM95 826h1v1h-1zM96 827h1v1h-1zM97 828h1v1h-1zM98 829h1v1h-1zM99 830h1v1h-1zM100 831h1v2h-1zM101 833h1v2h-1zM102 835h1v3h-1zM103 838h1v2h-1zM104 840h1v3h-1zM105 843h1v2h-1zM106 845h1v3h-1zM107 848h1v2h-1zM108 850h1v1h-1zM108 851h3v1h-3zM111 850h4v1h-4zM115 849h6v1h-6zM121 848h12v1h-12zM132 847h1v1h-1zM133 845h1v2h-1zM134 843h1v2h-1zM135 841h1v2h-1zM136 839h1v2h-1zM137 837h1v2h-1zM138 835h1v2h-1zM139 833h1v2h-1zM140 831h1v1h-1zM140 832h2v1h-2zM142 833h1v2h-1zM143 835h1v1h-1zM144 836h1v1h-1zM145 837h1v1h-1zM146 838h1v2h-1zM147 840h1v1h-1zM148 841h1v1h-1zM149 842h1v2h-1zM150 844h1v1h-1zM151 845h1v2h-1zM152 847h1v1h-1zM153 848h1v2h-1zM154 850h1v1h-1zM155 851h1v2h-1zM156 853h1v1h-1zM157 851h1v2h-1zM158 850h1v1h-1zM159 848h1v2h-1zM160 847h1v1h-1zM161 845h1v2h-1zM162 844h1v1h-1zM163 842h1v2h-1zM164 841h3v1h-3zM167 840h4v1h-4zM171 839h4v1h-4zM175 840h4v1h-4zM179 841h4v1h-4zM183 842h4v1h-4zM187 843h2v1h-2zM189 841h1v2h-1zM190 839h1v2h-1zM191 838h1v1h-1zM192 836h1v2h-1zM193 835h1v1h-1zM194 833h1v2h-1zM195 831h1v2h-1zM196 830h2v1h-2zM198 831h2v1h-2zM200 832h2v1h-2zM202 833h2v1h-2zM204 834h1v1h-1zM205 833h1v1h-1zM206 832h1v1h-1zM207 831h1v1h-1zM208 830h1v1h-1zM209 829h1v1h-1zM210 828h1v1h-1zM211 827h1v1h-1zM212 826h1v1h-1zM213 827h1v1h-1zM214 828h1v1h-1zM215 829h1v1h-1zM216 830h1v1h-1zM217 831h1v1h-1zM218 832h1v1h-1zM219 833h1v1h-1zM220 834h1v1h-1zM221 835h1v1h-1zM222 836h1v1h-1zM223 837h2v1h-2zM225 838h1v1h-1zM226 839h1v1h-1zM227 840h1v1h-1zM228 841h1v1h-1zM229 840h1v1h-1zM230 839h1v1h-1zM231 838h1v1h-1zM232 837h1v1h-1zM233 836h1v1h-1zM234 835h1v1h-1zM235 834h1v1h-1zM236 833h1v1h-1zM237 831h1v2h-1zM238 829h1v2h-1zM239 827h1v2h-1zM240 826h1v1h-1zM241 824h1v2h-1zM242 822h1v2h-1zM243 820h1v2h-1zM244 819h1v1h-1zM245 817h1v2h-1zM246 815h1v2h-1zM247 813h1v2h-1zM248 811h1v2h-1zM249 809h1v2h-1zM250 807h1v2h-1zM251 805h1v2h-1zM252 804h5v1h-5zM257 803h8v1h-8zM265 802h6v1h-6zM271 803h4v1h-4zM275 804h2v1h-2zM277 805h1v1h-1zM278 806h1v1h-1zM279 807h2v1h-2zM281 808h1v1h-1zM282 809h1v1h-1zM283 810h1v1h-1zM284 811h10v1h-10zM294 810h3v1h-3zM297 809h2v1h-2zM299 808h6v1h-6zM305 807h5v1h-5zM310 808h2v1h-2zM312 809h2v1h-2zM314 810h2v1h-2zM316 811h1v1h-1zM317 810h2v1h-2zM319 809h2v1h-2zM321 808h1v1h-1zM322 807h2v1h-2zM324 806h3v1h-3zM327 805h4v1h-4zM331 804h2v1h-2zM333 805h1v2h-1zM334 807h1v2h-1zM335 809h1v2h-1zM336 811h1v2h-1zM337 813h1v2h-1zM338 815h1v2h-1zM339 817h1v2h-1zM340 819h1v1h-1zM341 818h2v1h-2zM343 817h1v1h-1zM344 816h1v1h-1zM345 815h2v1h-2zM347 814h1v1h-1zM348 813h3v1h-3zM351 812h4v1h-4zM355 811h11v1h-11zM366 810h2v1h-2zM368 809h2v1h-2zM370 808h2v1h-2zM372 807h1v1h-1zM373 808h1v2h-1zM374 810h1v1h-1zM375 811h1v1h-1zM376 812h1v2h-1zM377 814h1v1h-1zM378 815h1v1h-1zM379 816h1v2h-1zM380 818h1v1h-1zM381 817h1v1h-1zM382 815h1v2h-1zM383 814h1v1h-1zM384 813h1v1h-1zM385 812h1v1h-1zM386 810h1v2h-1zM387 809h1v1h-1zM388 808h2v1h-2zM390 807h2v1h-2zM392 806h2v1h-2zM394 805h2v1h-2zM396 804h1v1h-1zM397 803h1v1h-1zM398 802h1v1h-1zM399 801h1v1h-1zM400 799h1v2h-1zM401 798h1v1h-1zM402 797h1v1h-1zM403 796h1v1h-1zM404 795h3v1h-3zM407 794h4v1h-4zM411 793h2v1h-2zM413 794h1v1h-1zM414 795h1v2h-1zM415 797h1v1h-1zM416 798h1v1h-1zM417 799h1v1h-1zM418 800h1v2h-1zM419 802h1v1h-1zM420 803h1v1h-1zM421 804h2v1h-2zM423 805h2v1h-2zM425 806h1v1h-1zM426 807h2v1h-2zM428 808h1v2h-1zM429 810h1v2h-1zM430 812h1v3h-1zM431 815h1v3h-1zM432 818h1v2h-1zM433 820h1v3h-1zM434 823h1v3h-1zM435 826h1v2h-1zM436 828h1v1h-1zM436 829h5v1h-5zM441 828h5v1h-5zM446 827h2v1h-2zM448 826h2v1h-2zM450 825h2v1h-2zM452 824h2v1h-2zM454 823h2v1h-2zM456 822h2v1h-2zM458 821h2v1h-2zM460 820h1v1h-1zM461 819h2v1h-2zM463 818h2v1h-2zM465 817h1v1h-1zM466 816h3v1h-3zM468 815h1v1h-1zM469 817h1v3h-1zM470 820h1v4h-1zM471 824h1v3h-1zM472 827h1v3h-1zM473 830h1v3h-1zM474 833h1v4h-1zM475 837h1v3h-1zM476 840h2v1h-2zM476 841h1v1h-1zM477 839h1v1h-1zM478 837h1v2h-1zM479 836h1v1h-1zM480 834h1v2h-1zM481 833h1v1h-1zM482 831h1v2h-1zM483 829h1v2h-1zM484 828h1v1h-1zM485 826h1v2h-1zM486 825h1v1h-1zM487 824h1v1h-1zM488 822h1v2h-1zM489 821h1v1h-1zM490 820h1v1h-1zM491 818h1v2h-1zM492 817h2v1h-2zM494 818h2v1h-2zM496 819h2v1h-2zM498 820h2v1h-2zM500 821h1v1h-1zM501 820h2v1h-2zM503 819h2v1h-2zM505 818h1v1h-1zM506 817h2v1h-2zM508 816h11v1h-11zM519 815h4v1h-4zM523 814h6v1h-6zM529 815h4v1h-4zM533 814h1v1h-1zM534 812h1v2h-1zM535 811h1v1h-1zM536 810h1v1h-1zM537 809h1v1h-1zM538 807h1v2h-1zM539 806h1v1h-1zM540 805h1v1h-1zM541 806h1v1h-1zM542 807h1v1h-1zM543 808h1v1h-1zM544 809h1v2h-1zM545 811h1v1h-1zM546 812h1v1h-1zM547 813h1v1h-1zM548 814h1v1h-1zM549 815h2v1h-2zM551 816h2v1h-2zM553 817h1v1h-1zM554 818h2v1h-2zM556 819h2v1h-2zM558 818h3v1h-3zM561 817h2v1h-2zM563 816h3v1h-3zM566 815h3v1h-3zM569 814h2v1h-2zM571 813h2v1h-2zM573 814h1v1h-1zM574 815h1v1h-1zM575 816h1v1h-1zM576 817h1v2h-1zM577 819h1v1h-1zM578 820h1v1h-1zM579 821h1v1h-1zM580 822h1v1h-1zM581 821h2v1h-2zM583 820h1v1h-1zM584 819h1v1h-1zM585 818h2v1h-2zM587 817h1v1h-1zM588 816h5v1h-5zM593 815h8v1h-8zM601 816h8v1h-8zM609 815h6v1h-6zM615 814h4v1h-4zM619 813h2v1h-2zM621 814h1v1h-1zM622 815h1v1h-1zM623 816h2v1h-2zM625 817h1v1h-1zM626 818h1v1h-1zM627 819h1v1h-1zM628 820h1v1h-1zM629 819h1v1h-1zM630 818h1v1h-1zM631 817h1v1h-1zM632 815h1v2h-1zM633 814h1v1h-1zM634 813h1v1h-1zM635 812h1v1h-1zM636 811h2v1h-2zM638 810h3v1h-3zM641 809h2v1h-2zM643 808h6v1h-6zM649 807h5v1h-5zM654 806h3v1h-3zM657 805h2v1h-2zM659 804h3v1h-3zM662 803h2v1h-2zM664 802h2v1h-2zM666 801h2v1h-2zM668 800h3v1h-3zM671 799h4v1h-4zM675 798h2v1h-2zM677 797h1v1h-1zM678 796h1v1h-1zM679 795h2v1h-2zM681 794h1v1h-1zM682 793h1v1h-1zM683 792h1v1h-1zM684 791h2v1h-2zM686 792h2v1h-2zM688 793h2v1h-2zM690 794h2v1h-2zM692 795h10v1h-10zM702 794h2v1h-2zM704 793h2v1h-2zM706 792h3v1h-3zM708 791h1v1h-1zM709 793h1v2h-1zM710 795h1v2h-1zM711 797h1v2h-1zM712 799h1v3h-1zM713 802h1v2h-1zM714 804h1v2h-1zM715 806h1v2h-1zM716 808h2v1h-2zM716 809h1v1h-1zM717 807h1v1h-1zM718 806h1v1h-1zM719 805h1v1h-1zM720 803h1v2h-1zM721 802h1v1h-1zM722 801h1v1h-1zM723 799h1v2h-1zM724 798h1v1h-1zM725 799h2v1h-2zM727 800h1v1h-1zM728 801h1v1h-1zM729 802h2v1h-2zM731 803h1v1h-1zM732 804h1v1h-1zM733 805h2v1h-2zM735 806h2v1h-2zM737 807h1v1h-1zM738 808h2v1h-2zM740 809h5v1h-5zM745 808h5v1h-5zM750 809h3v1h-3zM753 810h2v1h-2zM755 811h2v1h-2zM757 812h1v2h-1zM758 814h1v2h-1zM759 816h1v2h-1zM760 818h1v1h-1zM761 819h1v2h-1zM762 821h1v2h-1zM763 823h1v2h-1zM764 825h1v1h-1zM765 824h1v1h-1zM766 823h1v1h-1zM767 822h2v1h-2zM769 821h1v1h-1zM770 820h1v1h-1zM771 819h1v1h-1zM772 818h2v1h-2zM774 817h3v1h-3zM777 816h2v1h-2zM779 815h2v1h-2zM781 816h2v1h-2zM783 817h1v1h-1zM784 818h1v1h-1zM785 819h2v1h-2zM787 820h1v1h-1zM788 821h1v1h-1zM789 820h1v1h-1zM790 819h1v1h-1zM791 818h1v1h-1zM792 816h1v2h-1zM793 815h1v1h-1zM794 814h1v1h-1zM795 813h1v1h-1zM796 812h10v1h-10zM806 813h2v1h-2zM808 814h2v1h-2zM810 815h2v1h-2zM812 816h3v1h-3zM815 815h4v1h-4zM819 814h2v1h-2zM821 813h1v1h-1zM822 812h1v1h-1zM823 811h1v1h-1zM824 810h1v1h-1zM825 809h1v1h-1zM826 808h1v1h-1zM827 807h1v1h-1zM828 806h3v1h-3zM831 805h4v1h-4zM835 804h4v1h-4zM839 805h4v1h-4zM843 806h3v1h-3zM846 807h3v1h-3zM849 808h2v1h-2zM851 809h4v1h-4zM855 808h4v1h-4zM859 807h2v1h-2zM860 808h1v1h-1zM861 809h1v2h-1zM862 811h1v3h-1zM863 814h1v3h-1zM864 817h1v2h-1zM865 819h1v3h-1zM866 822h1v3h-1zM867 825h1v2h-1zM868 827h2v1h-2zM868 828h1v1h-1zM869 826h1v1h-1zM870 824h1v2h-1zM871 823h1v1h-1zM872 821h1v2h-1zM873 820h1v1h-1zM874 818h1v2h-1zM875 816h1v2h-1zM876 815h5v1h-5zM881 816h8v1h-8zM889 815h6v1h-6zM895 814h4v1h-4zM899 813h12v1h-12zM911 812h4v1h-4zM915 811h2v1h-2zM917 810h1v1h-1zM918 809h1v1h-1zM919 808h1v1h-1zM920 807h1v1h-1zM921 806h1v1h-1zM922 805h1v1h-1zM923 804h2v1h-2zM924 803h1v1h-1zM924 805h1v1h-1zM925 806h1v6h-1zM926 812h1v5h-1zM927 817h1v6h-1zM928 823h1v5h-1zM929 828h1v6h-1zM930 834h1v5h-1zM931 839h1v6h-1zM932 845h1v2h-1zM932 847h5v1h-5zM937 846h6v1h-6zM943 847h4v1h-4zM947 848h2v1h-2zM949 846h1v2h-1zM950 844h1v2h-1zM951 842h1v2h-1zM952 841h1v1h-1zM953 839h1v2h-1zM954 837h1v2h-1zM955 835h1v2h-1zM956 834h1v1h-1zM957 832h1v2h-1zM958 831h1v1h-1zM959 829h1v2h-1zM960 828h1v1h-1zM961 826h1v2h-1zM962 825h1v1h-1zM963 823h1v2h-1zM964 822h1v1h-1zM965 820h1v2h-1zM966 819h1v1h-1zM967 818h1v1h-1zM968 816h1v2h-1zM969 815h1v1h-1zM970 814h1v1h-1zM971 812h1v2h-1zM972 811h1v1h-1zM973 812h1v1h-1zM974 813h1v1h-1zM975 814h1v1h-1zM976 815h1v2h-1zM977 817h1v1h-1zM978 818h1v1h-1zM979 819h1v1h-1zM980 820h5v1h-5zM985 819h6v1h-6zM991 818h4v1h-4zM995 817h14v1h-14zM1009 818h13v1h-13zM1022 817h2v1h-2zM1024 816h2v1h-2zM1026 815h2v1h-2zM1028 814h2v1h-2zM1030 813h3v1h-3zM1033 812h2v1h-2zM1035 811h2v1h-2zM1037 810h2v1h-2zM1039 809h2v1h-2zM1041 808h1v1h-1zM1042 807h2v1h-2zM1044 806h2v1h-2zM1046 805h2v1h-2zM1048 804h2v1h-2zM1050 803h2v1h-2zM1052 802h2v1h-2zM1054 803h2v1h-2zM1056 804h2v1h-2zM1058 805h2v1h-2zM1060 806h3v1h-3zM1063 805h4v1h-4zM1067 804h4v1h-4zM1071 805h4v1h-4zM1075 806h4v1h-4zM1079 805h4v1h-4zM1083 804h2v1h-2zM1085 805h1v1h-1zM1086 806h1v2h-1zM1087 808h1v1h-1zM1088 809h1v1h-1zM1089 810h1v1h-1zM1090 811h1v2h-1zM1091 813h1v1h-1zM1092 814h1v1h-1zM1093 813h2v1h-2zM1095 812h1v1h-1zM1096 811h1v1h-1zM1097 810h2v1h-2zM1099 809h1v1h-1zM1100 808h10v1h-10zM1110 807h2v1h-2zM1112 806h2v1h-2zM1114 805h2v1h-2zM1116 804h5v1h-5zM1121 803h6v1h-6zM1127 802h4v1h-4zM1131 801h3v1h-3zM1134 802h3v1h-3zM1137 803h2v1h-2zM1139 804h2v1h-2zM1140 805h1v1h-1zM1141 806h1v3h-1zM1142 809h1v3h-1zM1143 812h1v3h-1zM1144 815h1v2h-1zM1145 817h1v3h-1zM1146 820h1v3h-1zM1147 823h1v3h-1zM1148 826h1v2h-1zM1149 828h1v1h-1zM1150 829h1v2h-1zM1151 831h1v1h-1zM1152 832h1v1h-1zM1153 833h1v1h-1zM1154 834h1v2h-1zM1155 836h1v1h-1zM1156 837h2v1h-2zM1158 836h3v1h-3zM1161 835h2v1h-2zM1163 834h2v1h-2zM1165 832h1v2h-1zM1166 830h1v2h-1zM1167 829h1v1h-1zM1168 827h1v2h-1zM1169 826h1v1h-1zM1170 824h1v2h-1zM1171 822h1v2h-1zM1172 821h5v1h-5zM1177 820h6v1h-6zM1183 819h4v1h-4zM1187 818h6v1h-6zM1193 817h4v1h-4zM1197 816h2v1h-2zM1199 815h1v1h-1zM1200 814h1v1h-1zM1201 813h2v1h-2zM1203 812h1v1h-1zM1204 811h1v1h-1zM1205 810h1v1h-1zM1206 809h1v1h-1zM1207 808h1v1h-1zM1208 807h1v1h-1zM1209 806h1v1h-1zM1210 805h1v1h-1zM1211 804h1v1h-1zM1212 803h1v1h-1zM1213 802h1v1h-1zM1214 801h1v1h-1zM1215 800h2v1h-2zM1217 799h1v1h-1zM1218 798h1v1h-1zM1219 797h1v1h-1zM1220 796h2v1h-2zM1222 797h2v1h-2zM1224 798h2v1h-2zM1226 799h2v1h-2zM1228 800h2v1h-2zM1230 801h2v1h-2zM1232 802h2v1h-2zM1234 803h2v1h-2zM1236 804h1v1h-1zM1237 805h1v2h-1zM1238 807h1v1h-1zM1239 808h1v2h-1zM1240 810h1v1h-1zM1241 811h1v2h-1zM1242 813h1v1h-1zM1243 814h1v2h-1zM1244 816h2v1h-2zM1246 817h3v1h-3zM1249 818h2v1h-2zM1251 819h2v1h-2zM1253 818h2v1h-2zM1255 817h2v1h-2zM1257 816h1v1h-1zM1258 815h2v1h-2zM1260 814h2v1h-2zM1262 813h2v1h-2zM1264 812h2v1h-2zM1266 811h2v1h-2zM1268 810h2v1h-2zM1270 811h2v1h-2zM1272 812h2v1h-2zM1274 813h2v1h-2zM1276 814h2v1h-2zM1278 813h3v1h-3zM1281 812h2v1h-2zM1283 811h2v1h-2zM1285 810h1v1h-1zM1286 809h1v1h-1zM1287 808h2v1h-2zM1289 807h1v1h-1zM1290 806h1v1h-1zM1291 805h1v1h-1zM1292 804h1v1h-1zM1293 805h1v1h-1zM1294 806h1v1h-1zM1295 807h2v1h-2zM1297 808h1v1h-1zM1298 809h1v1h-1zM1299 810h1v1h-1zM1300 811h1v1h-1zM1301 812h1v1h-1zM1302 813h1v2h-1zM1303 815h1v1h-1zM1304 816h1v1h-1zM1305 817h1v1h-1zM1306 818h1v2h-1zM1307 820h1v1h-1zM1308 821h2v1h-2zM1310 822h3v1h-3zM1313 823h2v1h-2zM1315 824h6v1h-6zM1321 825h12v1h-12zM1332 826h1v1h-1zM1333 827h1v2h-1zM1334 829h1v2h-1zM1335 831h1v3h-1zM1336 834h1v2h-1zM1337 836h1v3h-1zM1338 839h1v2h-1zM1339 841h1v2h-1zM1340 843h1v3h-1zM1341 846h1v2h-1zM1342 848h1v3h-1zM1343 851h1v2h-1zM1344 853h1v3h-1zM1345 856h1v2h-1zM1346 858h1v3h-1zM1347 861h1v2h-1zM1348 863h1v1h-1zM1348 864h2v1h-2zM1350 863h3v1h-3zM1353 862h2v1h-2zM1355 861h4v1h-4zM1359 860h4v1h-4zM1363 859h14v1h-14zM1377 858h4v1h-4z" fill="#1e90ff"/><rect x="0" y="27" width="1648" height="1" fill="#000" /><rect x="1647" y="27" width="1" height="902" fill="#000" /><rect x="0" y="580" width="1648" height="1" fill="#000" /><rect x="0" y="582" width="1648" height="1" fill="#000" /><rect x="0" y="752" width="1648" height="1" fill="#000" /><rect x="0" y="754" width="1648" height="1" fill="#000" /><rect x="0" y="928" width="1648" height="1" fill="#000" /><rect x="0" y="581" width="1648" height="1" fill="#fff" /><rect x="0" y="753" width="1648" height="1" fill="#fff" /><rect x="1648" y="49" width="2" height="1" fill="#000" /><rect x="1648" y="82" width="2" height="1" fill="#000" /><rect x="1648" y="115" width="2" height="1" fill="#000" /><rect x="1648" y="148" width="2" height="1" fill="#000" /><rect x="1648" y="181" width="2" height="1" fill="#000" /><rect x="1648" y="214" width="2" height="1" fill="#000" /><rect x="1648" y="247" width="2" height="1" fill="#000" /><rect x="1648" y="280" width="2" height="1" fill="#000" /><rect x="1648" y="313" width="2" height="1" fill="#000" /><rect x="1648" y="346" width="2" height="1" fill="#000" /><rect x="1648" y="379" width="2" height="1" fill="#000" /><rect x="1648" y="412" width="2" height="1" fill="#000" /><rect x="1648" y="445" width="2" height="1" fill="#000" /><rect x="1648" y="478" width="2" height="1" fill="#000" /><rect x="1648" y="511" width="2" height="1" fill="#000" /><rect x="1648" y="544" width="2" height="1" fill="#000" /><rect x="1648" y="577" width="2" height="1" fill="#000" /><rect x="1648" y="584" width="1" height="1" fill="#000" /><rect x="1648" y="731" width="1" height="1" fill="#000" /><rect x="1648" y="751" width="1" height="1" fill="#000" /><rect x="1648" y="756" width="1" height="1" fill="#000" /><rect x="1648" y="927" width="1" height="1" fill="#000" /><rect x="1649" y="54" width="41" height="11" fill="#ff0000" /><rect x="1649" y="86" width="41" height="11" fill="#ff0000" /><rect x="1642" y="90" width="5" height="5" fill="#ff0000" /><rect x="1643" y="91" width="3" height="3" fill="#fff" /><rect x="1649" y="118" width="41" height="11" fill="#ffa500" /><rect x="1642" y="122" width="5" height="5" fill="#ffa500" /><rect x="1643" y="123" width="3" height="3" fill="#fff" /><rect x="1649" y="132" width="41" height="11" fill="#000000" /><rect x="1649" y="165" width="41" height="11" fill="#0000ff" /><rect x="1642" y="169" width="5" height="5" fill="#0000ff" /><rect x="1643" y="170" width="3" height="3" fill="#fff" /><rect x="1649" y="193" width="41" height="11" fill="#0000ff" /><rect x="1642" y="197" width="5" height="5" fill="#0000ff" /><rect x="1643" y="198" width="3" height="3" fill="#fff" /><rect x="52" y="929" width="1" height="3" fill="#000" /><rect x="116" y="929" width="1" height="3" fill="#000" /><rect x="180" y="929" width="1" height="3" fill="#000" /><rect x="244" y="929" width="1" height="3" fill="#000" /><rect x="308" y="929" width="1" height="3" fill="#000" /><rect x="372" y="929" width="1" height="3" fill="#000" /><rect x="436" y="929" width="1" height="3" fill="#000" /><rect x="500" y="929" width="1" height="3" fill="#000" /><rect x="564" y="929" width="1" height="3" fill="#000" /><rect x="628" y="929" width="1" height="3" fill="#000" /><rect x="692" y="929" width="1" height="3" fill="#000" /><rect x="756" y="929" width="1" height="3" fill="#000" /><rect x="820" y="929" width="1" height="3" fill="#000" /><rect x="884" y="929" width="1" height="3" fill="#000" /><rect x="948" y="929" width="1" height="3" fill="#000" /><rect x="1012" y="929" width="1" height="3" fill="#000" /><rect x="1076" y="929" width="1" height="3" fill="#000" /><rect x="1140" y="929" width="1" height="3" fill="#000" /><rect x="1204" y="929" width="1" height="3" fill="#000" /><rect x="1268" y="929" width="1" height="3" fill="#000" /><rect x="1332" y="929" width="1" height="3" fill="#000" /><path d="M24.5,32.6L26,30.6L27.5,32.6" fill="none" stroke="#000" stroke-width="0.9" shape-rendering="auto"/><g shape-rendering="crispEdges"><line x1="1303.5" y1="63" x2="1392.8" y2="157.3" stroke="#ff0000" stroke-width="3"/><polygon points="1398.6,163.5 1388.0,159.1 1394.8,152.6" fill="#ff0000" stroke="#ff0000" stroke-width="1"/><line x1="1321.5" y1="633" x2="1382.3" y2="742.6" stroke="#ff0000" stroke-width="3"/><polygon points="1386.4,750.0 1377.2,743.1 1385.4,738.5" fill="#ff0000" stroke="#ff0000" stroke-width="1"/><line x1="1312" y1="803" x2="1344.3" y2="857.3" stroke="#ff0000" stroke-width="3"/><polygon points="1348.7,864.6 1339.3,858.0 1347.4,853.2" fill="#ff0000" stroke="#ff0000" stroke-width="1"/><line x1="1348.9" y1="863.4" x2="1387.4" y2="860.1" stroke="#ff0000" stroke-width="3"/><polygon points="1395.9,859.4 1385.8,865.0 1385.0,855.6" fill="#ff0000" stroke="#ff0000" stroke-width="1"/></g><polygon points="1391,28 1402,28 1396.5,33.5" fill="#c0c0c0"/><g font-family='"Liberation Sans", sans-serif' fill="#000" shape-rendering="auto"><text transform="translate(1653,53) scale(1,1.13)" font-size="9.7" textLength="33" lengthAdjust="spacingAndGlyphs">1.00715</text><text transform="translate(1653,86) scale(1,1.13)" font-size="9.7" textLength="33" lengthAdjust="spacingAndGlyphs">1.00220</text><text transform="translate(1653,119) scale(1,1.13)" font-size="9.7" textLength="33" lengthAdjust="spacingAndGlyphs">0.99710</text><text transform="translate(1653,152) scale(1,1.13)" font-size="9.7" textLength="33" lengthAdjust="spacingAndGlyphs">0.99215</text><text transform="translate(1653,185) scale(1,1.13)" font-size="9.7" textLength="33" lengthAdjust="spacingAndGlyphs">0.98720</text><text transform="translate(1653,218) scale(1,1.13)" font-size="9.7" textLength="33" lengthAdjust="spacingAndGlyphs">0.98210</text><text transform="translate(1653,251) scale(1,1.13)" font-size="9.7" textLength="33" lengthAdjust="spacingAndGlyphs">0.97715</text><text transform="translate(1653,284) scale(1,1.13)" font-size="9.7" textLength="33" lengthAdjust="spacingAndGlyphs">0.97205</text><text transform="translate(1653,317) scale(1,1.13)" font-size="9.7" textLength="33" lengthAdjust="spacingAndGlyphs">0.96710</text><text transform="translate(1653,350) scale(1,1.13)" font-size="9.7" textLength="33" lengthAdjust="spacingAndGlyphs">0.96200</text><text transform="translate(1653,383) scale(1,1.13)" font-size="9.7" textLength="33" lengthAdjust="spacingAndGlyphs">0.95705</text><text transform="translate(1653,416) scale(1,1.13)" font-size="9.7" textLength="33" lengthAdjust="spacingAndGlyphs">0.95210</text><text transform="translate(1653,449) scale(1,1.13)" font-size="9.7" textLength="33" lengthAdjust="spacingAndGlyphs">0.94700</text><text transform="translate(1653,482) scale(1,1.13)" font-size="9.7" textLength="33" lengthAdjust="spacingAndGlyphs">0.94205</text><text transform="translate(1653,515) scale(1,1.13)" font-size="9.7" textLength="33" lengthAdjust="spacingAndGlyphs">0.93695</text><text transform="translate(1653,548) scale(1,1.13)" font-size="9.7" textLength="33" lengthAdjust="spacingAndGlyphs">0.93200</text><text transform="translate(1653,581) scale(1,1.13)" font-size="9.7" textLength="33" lengthAdjust="spacingAndGlyphs">0.92705</text><text transform="translate(1651,594) scale(1,1.13)" font-size="9.7" textLength="38" lengthAdjust="spacingAndGlyphs">0.005072</text><text transform="translate(1651,735) scale(1,1.13)" font-size="9.7" textLength="18" lengthAdjust="spacingAndGlyphs">0.00</text><text transform="translate(1651,749) scale(1,1.13)" font-size="9.7" textLength="31" lengthAdjust="spacingAndGlyphs">-0.0007</text><text transform="translate(1651,765) scale(1,1.13)" font-size="9.7" textLength="15" lengthAdjust="spacingAndGlyphs">100</text><text transform="translate(1651,794) scale(1,1.13)" font-size="9.7" textLength="10" lengthAdjust="spacingAndGlyphs">80</text><text transform="translate(1651,845) scale(1,1.13)" font-size="9.7" textLength="10" lengthAdjust="spacingAndGlyphs">50</text><text transform="translate(1651,906) scale(1,1.13)" font-size="9.7" textLength="10" lengthAdjust="spacingAndGlyphs">15</text><text transform="translate(1651,925) scale(1,1.13)" font-size="9.7" textLength="5" lengthAdjust="spacingAndGlyphs">0</text><text transform="translate(51,941) scale(1,1.13)" font-size="9.7" textLength="48.7" lengthAdjust="spacingAndGlyphs" xml:space="preserve">8 Apr 08:00</text><text transform="translate(115,941) scale(1,1.13)" font-size="9.7" textLength="53.3" lengthAdjust="spacingAndGlyphs" xml:space="preserve">11 Apr 16:00</text><text transform="translate(179,941) scale(1,1.13)" font-size="9.7" textLength="54.0" lengthAdjust="spacingAndGlyphs" xml:space="preserve">13 Apr 00:00</text><text transform="translate(243,941) scale(1,1.13)" font-size="9.7" textLength="54.0" lengthAdjust="spacingAndGlyphs" xml:space="preserve">14 Apr 08:00</text><text transform="translate(307,941) scale(1,1.13)" font-size="9.7" textLength="54.0" lengthAdjust="spacingAndGlyphs" xml:space="preserve">15 Apr 16:00</text><text transform="translate(371,941) scale(1,1.13)" font-size="9.7" textLength="54.0" lengthAdjust="spacingAndGlyphs" xml:space="preserve">19 Apr 00:00</text><text transform="translate(435,941) scale(1,1.13)" font-size="9.7" textLength="54.0" lengthAdjust="spacingAndGlyphs" xml:space="preserve">20 Apr 08:00</text><text transform="translate(499,941) scale(1,1.13)" font-size="9.7" textLength="54.0" lengthAdjust="spacingAndGlyphs" xml:space="preserve">21 Apr 16:00</text><text transform="translate(563,941) scale(1,1.13)" font-size="9.7" textLength="54.0" lengthAdjust="spacingAndGlyphs" xml:space="preserve">25 Apr 00:00</text><text transform="translate(627,941) scale(1,1.13)" font-size="9.7" textLength="54.0" lengthAdjust="spacingAndGlyphs" xml:space="preserve">26 Apr 08:00</text><text transform="translate(691,941) scale(1,1.13)" font-size="9.7" textLength="54.0" lengthAdjust="spacingAndGlyphs" xml:space="preserve">27 Apr 16:00</text><text transform="translate(755,941) scale(1,1.13)" font-size="9.7" textLength="54.0" lengthAdjust="spacingAndGlyphs" xml:space="preserve">29 Apr 00:00</text><text transform="translate(819,941) scale(1,1.13)" font-size="9.7" textLength="52.4" lengthAdjust="spacingAndGlyphs" xml:space="preserve">2 May 08:00</text><text transform="translate(883,941) scale(1,1.13)" font-size="9.7" textLength="52.4" lengthAdjust="spacingAndGlyphs" xml:space="preserve">3 May 16:00</text><text transform="translate(947,941) scale(1,1.13)" font-size="9.7" textLength="52.4" lengthAdjust="spacingAndGlyphs" xml:space="preserve">5 May 00:00</text><text transform="translate(1011,941) scale(1,1.13)" font-size="9.7" textLength="52.4" lengthAdjust="spacingAndGlyphs" xml:space="preserve">6 May 08:00</text><text transform="translate(1075,941) scale(1,1.13)" font-size="9.7" textLength="52.4" lengthAdjust="spacingAndGlyphs" xml:space="preserve">9 May 16:00</text><text transform="translate(1139,941) scale(1,1.13)" font-size="9.7" textLength="57.0" lengthAdjust="spacingAndGlyphs" xml:space="preserve">11 May 00:00</text><text transform="translate(1203,941) scale(1,1.13)" font-size="9.7" textLength="57.7" lengthAdjust="spacingAndGlyphs" xml:space="preserve">12 May 08:00</text><text transform="translate(1267,941) scale(1,1.13)" font-size="9.7" textLength="57.7" lengthAdjust="spacingAndGlyphs" xml:space="preserve">13 May 16:00</text><text transform="translate(1331,941) scale(1,1.13)" font-size="9.7" textLength="57.7" lengthAdjust="spacingAndGlyphs" xml:space="preserve">17 May 00:00</text><text transform="translate(-13,941) scale(1,1.13)" font-size="9.7" textLength="46.0" lengthAdjust="spacingAndGlyphs" xml:space="preserve">7 Apr 2022</text><text transform="translate(3.3,39) scale(1,1.13)" font-size="9.7" textLength="57.2" lengthAdjust="spacingAndGlyphs" xml:space="preserve">USDCHF-,H4</text><text transform="translate(66.9,39) scale(1,1.13)" font-size="9.7" textLength="141" lengthAdjust="spacingAndGlyphs" xml:space="preserve">0.99350 0.99377 0.99347 0.99373</text><text transform="translate(-6.76,595) scale(1,1.13)" font-size="9.7" textLength="63.86" lengthAdjust="spacingAndGlyphs" xml:space="preserve">MACD(12,26,9)</text><text transform="translate(61.4,595) scale(1,1.13)" font-size="9.7" textLength="40.1" lengthAdjust="spacingAndGlyphs" xml:space="preserve">-0.000437</text><text transform="translate(105.6,595) scale(1,1.13)" font-size="9.7" textLength="36.5" lengthAdjust="spacingAndGlyphs" xml:space="preserve">0.001427</text><text transform="translate(-9.7,767) scale(1,1.13)" font-size="9.7" textLength="32.8" lengthAdjust="spacingAndGlyphs" xml:space="preserve">RSI(14)</text><text transform="translate(26.9,767) scale(1,1.13)" font-size="9.7" textLength="33.1" lengthAdjust="spacingAndGlyphs" xml:space="preserve">40.3657</text></g><g font-family='"Liberation Sans", sans-serif' fill="#fff" shape-rendering="auto"><text transform="translate(1653,63) scale(1,1.13)" font-size="9.7" textLength="33" lengthAdjust="spacingAndGlyphs">1.00545</text><text transform="translate(1653,95) scale(1,1.13)" font-size="9.7" textLength="33" lengthAdjust="spacingAndGlyphs">1.00060</text><text transform="translate(1653,127) scale(1,1.13)" font-size="9.7" textLength="33" lengthAdjust="spacingAndGlyphs">0.99574</text><text transform="translate(1653,141) scale(1,1.13)" font-size="9.7" textLength="33" lengthAdjust="spacingAndGlyphs">0.99373</text><text transform="translate(1653,174) scale(1,1.13)" font-size="9.7" textLength="33" lengthAdjust="spacingAndGlyphs">0.98862</text><text transform="translate(1653,202) scale(1,1.13)" font-size="9.7" textLength="33" lengthAdjust="spacingAndGlyphs">0.98437</text></g><rect x="0" y="586" width="1" height="12" fill="#fff"/></svg>
<svg width="1694" height="25" viewBox="0 0 1694 25" style="position:absolute;left:0;top:0"><defs>
<linearGradient id="gp" x1="0" y1="0" x2="1" y2="1"><stop offset="0" stop-color="#8aff96"/><stop offset="0.55" stop-color="#1cf53a"/><stop offset="1" stop-color="#0ad020"/></linearGradient>
<linearGradient id="gold" x1="0" y1="0.2" x2="1" y2="0.6"><stop offset="0" stop-color="#e0a008"/><stop offset="0.35" stop-color="#f0c020"/><stop offset="0.7" stop-color="#fbe468"/><stop offset="1" stop-color="#d8a010"/></linearGradient>
<linearGradient id="sky" x1="0" y1="0" x2="0" y2="1"><stop offset="0" stop-color="#ffffff"/><stop offset="1" stop-color="#b8cdee"/></linearGradient>
<linearGradient id="hat" x1="0" y1="0" x2="0" y2="1"><stop offset="0" stop-color="#8cc8f0"/><stop offset="1" stop-color="#3a88c8"/></linearGradient>
<linearGradient id="yel" x1="0" y1="0" x2="0" y2="1"><stop offset="0" stop-color="#fff088"/><stop offset="1" stop-color="#e8b820"/></linearGradient>
<linearGradient id="lens" x1="0" y1="0" x2="0" y2="1"><stop offset="0" stop-color="#eafaff"/><stop offset="1" stop-color="#b8e4f8"/></linearGradient>
<linearGradient id="cg" x1="0" y1="0" x2="1" y2="0"><stop offset="0" stop-color="#30d030"/><stop offset="0.5" stop-color="#a0ffa0"/><stop offset="1" stop-color="#30d030"/></linearGradient>
<linearGradient id="grn" x1="0" y1="0" x2="0" y2="1"><stop offset="0" stop-color="#2a9a1a"/><stop offset="1" stop-color="#48b428"/></linearGradient>
<linearGradient id="blu" x1="0" y1="0" x2="0" y2="1"><stop offset="0" stop-color="#1238b8"/><stop offset="1" stop-color="#3a6ae0"/></linearGradient>
<linearGradient id="ring" x1="0" y1="0" x2="0.6" y2="1"><stop offset="0" stop-color="#3a9cf0"/><stop offset="0.5" stop-color="#1468d0"/><stop offset="1" stop-color="#0a48a0"/></linearGradient>
<clipPath id="one"><rect x="1672" y="0" width="18" height="11.55"/><rect x="1679.9" y="11" width="2.3" height="2.2"/></clipPath>
<radialGradient id="sg" gradientUnits="userSpaceOnUse" cx="149" cy="11" r="8"><stop offset="0" stop-color="#eef6ea"/><stop offset="0.55" stop-color="#b4dcae"/><stop offset="1" stop-color="#4aa44a"/></radialGradient>
<radialGradient id="badge" cx="0.4" cy="0.3" r="0.8"><stop offset="0" stop-color="#f06040"/><stop offset="1" stop-color="#c82010"/></radialGradient>
<radialGradient id="stop" cx="0.4" cy="0.3" r="0.8"><stop offset="0" stop-color="#ff5030"/><stop offset="1" stop-color="#c01000"/></radialGradient>
<pattern id="chk" width="2" height="2" patternUnits="userSpaceOnUse"><rect width="2" height="2" fill="#fdfdfd"/><rect width="1" height="1" fill="#ececec"/><rect x="1" y="1" width="1" height="1" fill="#ececec"/></pattern>
<g id="plus"><path d="M4,0h4v4h4v4h-4v4h-4v-4h-4v-4h4z" fill="#0b8f0b" shape-rendering="crispEdges"/><path d="M5,1h2v4h4v2h-4v4h-2v-4h-4v-2h4z" fill="url(#gp)" shape-rendering="crispEdges"/></g>
<g id="doc"><path d="M1.5,0.5H8.5L11.5,3.5V12.5a1,1 0 0 1 -1,1H1.5a1,1 0 0 1 -1,-1V1.5a1,1 0 0 1 1,-1z" fill="#fff" stroke="#606060" stroke-width="1"/><path d="M8.5,0.5V3.5H11.5" fill="#f0f0f0" stroke="#606060" stroke-width="0.9"/></g>
<g id="axes"><path d="M3,19V6M0.5,16.5H13.4" fill="none" stroke="#555" stroke-width="1.25"/><path d="M3,4.4L4.7,7.2H1.3zM14.9,16.5L12.2,14.8V18.2z" fill="#555"/></g>
<g id="dd"><path d="M0,0h5.4l-2.7,3z" fill="#000"/></g>
<g id="grip" fill="#a8a8a8"><rect y="1" width="3" height="1"/><rect y="3" width="3" height="1"/><rect y="5" width="3" height="1"/><rect y="7" width="3" height="1"/><rect y="9" width="3" height="1"/><rect y="11" width="3" height="1"/><rect y="13" width="3" height="1"/><rect y="15" width="3" height="1"/><rect y="17" width="3" height="1"/><rect y="19" width="3" height="1"/></g>
</defs><rect x="0" y="17" width="1" height="2" fill="#d8a030"/><rect x="8" y="0" width="1" height="21" fill="#a0a0a0" shape-rendering="crispEdges"/><use href="#doc" x="18" y="3"/><rect x="20" y="5.3" width="3" height="1.5" fill="#8c8c8c"/><path d="M20,9.5h6M20,11.5h5M20,13.5h3" stroke="#8a8a8a" stroke-width="0.9"/><use href="#plus" x="22" y="9"/><path d="M93.2,17.6L100.6,12.2L100.9,13.5L93.3,19.1z" fill="#dccf9a" stroke="#a87820" stroke-width="0.6"/><path d="M85.5,12.3L93.2,17.5L93.3,19.1L85.2,13.7z" fill="#d89a18" stroke="#a86a10" stroke-width="0.6"/><path d="M90.5,4.1L99.6,10.3L100.6,12.2L93.2,17.6L85.5,12.3C87.6,10.6 89.7,7.8 90.5,4.1z" fill="url(#gold)" stroke="#a86a10" stroke-width="0.9" stroke-linejoin="round"/><path d="M86.8,12.2L93.3,16.4" fill="none" stroke="#fff0a0" stroke-width="0.7" opacity="0.8"/><path d="M115,5.4L117.4,3.2H126.2V12H115z" fill="#1690f8"/><path d="M118.7,4.4H126.2V12H118.7z" fill="#2ea4ff"/><path d="M115,5.4L118.7,4.4V12" fill="none" stroke="#b8e2ff" stroke-width="0.7"/><path d="M115,5.4L117.4,3.2H126.2L118.7,4.4z" fill="#58b8ff"/><path d="M120.3,8.3h4.6" stroke="#f0faff" stroke-width="1.1"/><path d="M120.3,10.2h2.4" stroke="#bfe4ff" stroke-width="0.8"/><path d="M116,18.7a2.7,2.7 0 0 1 -0.5,-5.3a3,3 0 0 1 4.9,-1.7a3.4,3.4 0 0 1 5.7,1.6a2.6,2.6 0 0 1 -0.1,5.4z" fill="url(#sky)" stroke="#4a66a8" stroke-width="1"/><path d="M149,11L154.2,5A8,8 0 0 1 149.6,19z" fill="url(#sg)"/><g fill="none" stroke-width="1"><path d="M150.5,3.5a7.6,7.6 0 1 0 -1.5,15.1" stroke="#7c98e6" opacity="0.8"/><path d="M149.2,6.2a4.8,4.8 0 1 0 -0.2,9.6" stroke="#7c98e6" opacity="0.8"/><path d="M151,3.6a7.6,7.6 0 0 1 -1,15" stroke="#3f9a4a" opacity="0.85"/><path d="M150.4,6.4a4.8,4.8 0 0 1 1,8.6" stroke="#6ab070" opacity="0.7"/></g><circle cx="148.9" cy="10.6" r="2" fill="#2456d4"/><rect x="149.1" y="11" width="1.2" height="7.9" fill="#1fa31f"/><path d="M168.3,10.8L183.8,9.6L175.9,19.1z" fill="url(#yel)" stroke="#d09a10" stroke-width="0.8" stroke-linejoin="round"/><path d="M168.3,8.7C167.9,6.8 170.8,6.5 172.3,7.2C172,3.3 178.4,3 178.5,7C180.3,5.8 184.1,5.7 184,7.7C183.9,9.9 179.2,10.9 176,10.9C172.2,10.9 168.6,10.1 168.3,8.7z" fill="url(#hat)" stroke="#2a86b0" stroke-width="0.7"/><path d="M172.6,7.4C174,8.4 177,8.4 178.4,7.2" fill="none" stroke="#2a86b0" stroke-width="0.5" opacity="0.7"/><circle cx="180.5" cy="14.8" r="4.3" fill="url(#stop)"/><rect x="178.9" y="13.2" width="3.3" height="3" fill="#fff"/><rect x="244" y="0" width="1" height="23" fill="#a0a0a0" shape-rendering="crispEdges"/><rect x="245" y="0" width="1" height="23" fill="#ffffff" shape-rendering="crispEdges"/><use href="#grip" x="248" y="0"/><use href="#axes" x="259.5" y="0"/><path d="M268.4,5.8v9M268.4,7.5h2.6M266,13.6h2.4" fill="none" stroke="#109010" stroke-width="1.3"/><rect x="282" y="0" width="1" height="21" fill="#a0a0a0" shape-rendering="crispEdges"/><rect x="283" y="0" width="25" height="22" fill="url(#chk)" shape-rendering="crispEdges"/><use href="#axes" x="287.5" y="0"/><path d="M296.5,3.2v11.6" stroke="#008800" stroke-width="1.3"/><rect x="294.2" y="5.5" width="4.6" height="7.2" fill="url(#cg)" stroke="#008800" stroke-width="0.9"/><use href="#axes" x="315.6" y="0"/><path d="M317.2,13.9C319.5,13 321,8.4 323.4,8.3C325.5,8.2 326.5,11.8 328.9,12.2" fill="none" stroke="#2a9a2a" stroke-width="1.3"/><rect x="339" y="0" width="1" height="21" fill="#a0a0a0" shape-rendering="crispEdges"/><path d="M358,12.8L363,17.6" stroke="#a87808" stroke-width="3.4" stroke-linecap="round"/><path d="M358.3,12.6L363,17.2" stroke="#f0d040" stroke-width="1.8" stroke-linecap="round"/><circle cx="354" cy="8.9" r="5.5" fill="url(#lens)" stroke="#3a80d0" stroke-width="1.2"/><path d="M351,8.9h6M354,5.9v6" stroke="#2a88a8" stroke-width="1.7"/><path d="M386,12.8L391,17.6" stroke="#a87808" stroke-width="3.4" stroke-linecap="round"/><path d="M386.3,12.6L391,17.2" stroke="#f0d040" stroke-width="1.8" stroke-linecap="round"/><circle cx="382" cy="8.9" r="5.5" fill="url(#lens)" stroke="#3a80d0" stroke-width="1.2"/><path d="M379,8.9h6" stroke="#2a88a8" stroke-width="1.7"/><rect x="404.3" y="3.3" width="7.6" height="7.6" rx="0.8" fill="url(#grn)"/><path d="M405.6,10.1v-3.4h5v3.4h-0.9v-1h-3.2v1z" fill="#fff"/><rect x="405.3" y="4.3" width="1" height="0.8" fill="#fff" opacity="0.8"/><rect x="406.7" y="7.3" width="2.8" height="0.8" fill="#a8e0a0"/><rect x="412.2" y="3.3" width="7.6" height="7.6" rx="0.8" fill="url(#blu)"/><path d="M413.5,10.1v-3.4h5v3.4h-0.9v-1h-3.2v1z" fill="#fff"/><rect x="413.2" y="4.3" width="1" height="0.8" fill="#fff" opacity="0.8"/><rect x="414.59999999999997" y="7.3" width="2.8" height="0.8" fill="#a8c0ff"/><rect x="404.3" y="11.2" width="7.6" height="7.6" rx="0.8" fill="url(#blu)"/><path d="M405.6,18.0v-3.4h5v3.4h-0.9v-1h-3.2v1z" fill="#fff"/><rect x="405.3" y="12.2" width="1" height="0.8" fill="#fff" opacity="0.8"/><rect x="406.7" y="15.2" width="2.8" height="0.8" fill="#a8c0ff"/><rect x="412.2" y="11.2" width="7.6" height="7.6" rx="0.8" fill="url(#grn)"/><path d="M413.5,18.0v-3.4h5v3.4h-0.9v-1h-3.2v1z" fill="#fff"/><rect x="413.2" y="12.2" width="1" height="0.8" fill="#fff" opacity="0.8"/><rect x="414.59999999999997" y="15.2" width="2.8" height="0.8" fill="#a8e0a0"/><rect x="429" y="0" width="1" height="21" fill="#a0a0a0" shape-rendering="crispEdges"/><rect x="434" y="0" width="1" height="21" fill="#a0a0a0" shape-rendering="crispEdges"/><rect x="435" y="0" width="24" height="22" fill="url(#chk)" shape-rendering="crispEdges"/><use href="#axes" x="439.5" y="0"/><path d="M447.3,7.2L450.9,10.5L447.3,13.8z" fill="#80f080" stroke="#109010" stroke-width="0.9"/><rect x="462" y="0" width="1" height="21" fill="#a0a0a0" shape-rendering="crispEdges"/><rect x="463" y="0" width="24" height="22" fill="url(#chk)" shape-rendering="crispEdges"/><use href="#axes" x="467.5" y="0"/><rect x="476" y="5" width="1.2" height="10" fill="#1878b0"/><path d="M477.5,10.5l3,-2.2l-0.5,1.6h2v1.2h-2l0.5,1.6z" fill="#e84800"/><rect x="491" y="0" width="1" height="21" fill="#a0a0a0" shape-rendering="crispEdges"/><use href="#doc" x="501" y="3"/><path d="M506.4,5.9c-1.7,-0.5 -2,0.8 -2,2v6.2M503.2,9.5h2.8" fill="none" stroke="#5a4a2a" stroke-width="0.9"/><use href="#plus" x="505" y="9"/><use href="#dd" x="522.8" y="10"/><circle cx="547.1" cy="10.9" r="6.7" fill="#fff" stroke="url(#ring)" stroke-width="2.7"/><circle cx="547.1" cy="10.9" r="8.1" fill="none" stroke="#0a4aa0" stroke-width="0.5"/><circle cx="547.1" cy="10.9" r="5.3" fill="none" stroke="#88b8e8" stroke-width="0.5"/><path d="M546.9,11.3L546,7.2M546.9,11.3L550.2,11.8" fill="none" stroke="#181818" stroke-width="1.4" stroke-linecap="round"/><g fill="#a0a0a0"><rect x="546.8" y="6.1" width="0.8" height="0.8"/><rect x="546.8" y="15" width="0.8" height="0.8" fill="#60a0ff"/><rect x="542.3" y="10.6" width="0.8" height="0.8"/><rect x="551.1" y="10.6" width="0.8" height="0.8"/><rect x="544" y="7.4" width="0.7" height="0.7"/><rect x="549.8" y="7.4" width="0.7" height="0.7"/><rect x="544" y="13.8" width="0.7" height="0.7"/><rect x="549.8" y="13.8" width="0.7" height="0.7"/></g><use href="#dd" x="561.9" y="10.3"/><rect x="578.3" y="4" width="15.6" height="13.6" fill="#fff" stroke="#3070c0" stroke-width="1"/><rect x="578.8" y="4.5" width="14.6" height="1.8" fill="#5a98e0"/><rect x="578.8" y="11.2" width="14.6" height="1.1" fill="#3070c0"/><path d="M580.5,10.2l2,0l2.5,-1.8l2.3,1l2.5,0l2,-1" fill="none" stroke="#a82010" stroke-width="1.1"/><path d="M581,15.6l2,0l1.5,-1l1.5,1l2.5,-2.2l2.5,2.4" fill="none" stroke="#108010" stroke-width="1.1"/><use href="#dd" x="600.8" y="10.3"/><rect x="612" y="0" width="1" height="23" fill="#a0a0a0" shape-rendering="crispEdges"/><rect x="613" y="0" width="1" height="23" fill="#ffffff" shape-rendering="crispEdges"/><use href="#grip" x="616" y="0"/><rect x="622" y="0" width="1" height="21" fill="#a0a0a0" shape-rendering="crispEdges"/><rect x="623" y="0" width="24" height="22" fill="url(#chk)" shape-rendering="crispEdges"/><path d="M630.3,3.8v11.2l2.3,-1.9l2.4,5l1.8,-0.9l-2.4,-4.8l3.6,-0.9z" fill="#505050"/><path d="M654.8,11.3h6.6M663.6,11.3h6.6M662.5,3.9v6.3M662.5,12.4v6.6" stroke="#505050" stroke-width="1.1"/><rect x="679" y="0" width="1" height="21" fill="#a0a0a0" shape-rendering="crispEdges"/><path d="M696.4,5v12.8" stroke="#505050" stroke-width="1.2"/><path d="M719,11.3h12" stroke="#505050" stroke-width="1.2"/><path d="M746.9,17.7L758.9,6" stroke="#505050" stroke-width="1.1"/><g stroke="#505050" stroke-width="0.9" fill="none"><path d="M772.8,13L781.5,4.8M774.5,16.2L786.5,5M778,17.6L786.8,9.5"/><path d="M775,11.5l2,4M777.3,9.3l2,4M779.6,7.2l2,4M781.9,5.2l2,4M784.7,3.2v7"/></g><text x="783.8" y="19.8" font-family='"Liberation Sans", sans-serif' font-weight="bold" font-size="6.5" fill="#404040">E</text><g stroke="#505050" stroke-width="0.9" stroke-dasharray="1,1"><path d="M802,4.6h13M802,7.4h13M802,11.3h13M802,15.6h9.5"/></g><text x="811.6" y="19.8" font-family='"Liberation Sans", sans-serif' font-weight="bold" font-size="6.5" fill="#404040">F</text><text x="832.6" y="15.9" font-family='"Liberation Sans", sans-serif' font-size="12.3" fill="#505050" stroke="#505050" stroke-width="0.45" textLength="7.6" lengthAdjust="spacingAndGlyphs">A</text><path d="M859 5h1v1h-1zM859 17h1v1h-1zM861 5h1v1h-1zM861 17h1v1h-1zM863 5h1v1h-1zM863 17h1v1h-1zM865 5h1v1h-1zM865 17h1v1h-1zM867 5h1v1h-1zM867 17h1v1h-1zM869 5h1v1h-1zM869 17h1v1h-1zM871 5h1v1h-1zM871 17h1v1h-1zM859 7h1v1h-1zM871 7h1v1h-1zM859 9h1v1h-1zM871 9h1v1h-1zM859 11h1v1h-1zM871 11h1v1h-1zM859 13h1v1h-1zM871 13h1v1h-1zM859 15h1v1h-1zM871 15h1v1h-1z" fill="#505050" shape-rendering="crispEdges"/><rect x="858" y="4" width="2" height="1" fill="#505050" shape-rendering="crispEdges"/><text x="861" y="15.9" font-family='"Liberation Sans", sans-serif' font-weight="bold" font-size="11" fill="#505050" textLength="8" lengthAdjust="spacingAndGlyphs">T</text><path d="M886.2,8.6l3.2,-3.4l3.2,3.4l-3.2,1.2zM893.3,13.6l3.2,-1.2l3.2,1.2l-3.2,3.6z" fill="#505050"/><path d="M888.5,12.5l2,2l4.6,-5.6" fill="none" stroke="#505050" stroke-width="1.2"/><use href="#dd" x="906.8" y="10"/><rect x="918" y="0" width="1" height="23" fill="#a0a0a0" shape-rendering="crispEdges"/><rect x="919" y="0" width="1" height="23" fill="#ffffff" shape-rendering="crispEdges"/><use href="#grip" x="922" y="0"/><rect x="1069" y="0" width="24" height="22" fill="url(#chk)" shape-rendering="crispEdges"/><rect x="1068" y="0" width="1" height="21" fill="#a0a0a0" shape-rendering="crispEdges"/><rect x="1179" y="0" width="1" height="23" fill="#a0a0a0" shape-rendering="crispEdges"/><rect x="1180" y="0" width="1" height="23" fill="#ffffff" shape-rendering="crispEdges"/><g font-family='"Liberation Sans", sans-serif' font-size="9.7" fill="#404040"><text transform="translate(933.4,15) scale(1,1.13)" textLength="13.1" lengthAdjust="spacingAndGlyphs">M1</text><text transform="translate(961.5,15) scale(1,1.13)" textLength="12.9" lengthAdjust="spacingAndGlyphs">M5</text><text transform="translate(987.6,15) scale(1,1.13)" textLength="17.5" lengthAdjust="spacingAndGlyphs">M15</text><text transform="translate(1015.6,15) scale(1,1.13)" textLength="17.6" lengthAdjust="spacingAndGlyphs">M30</text><text transform="translate(1046.7,15) scale(1,1.13)" textLength="11.5" lengthAdjust="spacingAndGlyphs">H1</text><text transform="translate(1073.6,15) scale(1,1.13)" textLength="12.3" lengthAdjust="spacingAndGlyphs">H4</text><text transform="translate(1102.7,15) scale(1,1.13)" textLength="11.4" lengthAdjust="spacingAndGlyphs">D1</text><text transform="translate(1130.4,15) scale(1,1.13)" textLength="13.3" lengthAdjust="spacingAndGlyphs">W1</text><text transform="translate(1156.8,15) scale(1,1.13)" textLength="14.6" lengthAdjust="spacingAndGlyphs">MN</text></g><circle cx="1650" cy="8" r="3.6" fill="#f8fbff" stroke="#2858c8" stroke-width="1.3"/><path d="M1647.2,11L1642.2,15.8" stroke="#2858c8" stroke-width="2.4" stroke-linecap="round"/><path d="M1671,9c-3,0 -4.8,1.8 -4.8,4s1.6,3.6 3.4,3.9l-0.6,2.4l2.8,-2.2c4,0 6,-1.8 6,-4.1s-2,-4 -6.8,-4z" fill="#e4e6ec" stroke="#b8bcc8" stroke-width="0.7"/><circle cx="1680.7" cy="8.1" r="8.1" fill="url(#badge)"/><text x="1680.3" y="12.9" font-family='"Liberation Sans", sans-serif' font-size="13.5" fill="#fff" stroke="#fff" stroke-width="0.35" text-anchor="middle" clip-path="url(#one)">1</text></svg><div class="cjk" style="left:37px;top:4px;">新订单</div><div class="cjk" style="left:188.5px;top:4px;">自动交易</div><svg width="212" height="60" viewBox="0 46 212 60" style="position:absolute;left:0;top:46px"><defs>
<linearGradient id="tab" x1="0" y1="0" x2="0" y2="1"><stop offset="0" stop-color="#fa5252"/><stop offset="1" stop-color="#dc2a2a"/></linearGradient>
<linearGradient id="big" gradientUnits="userSpaceOnUse" x1="0" y1="71" x2="0" y2="104"><stop offset="0" stop-color="#da2424"/><stop offset="0.6" stop-color="#c41212"/><stop offset="1" stop-color="#ac0000"/></linearGradient>
<linearGradient id="btn" x1="0" y1="0" x2="0" y2="1"><stop offset="0" stop-color="#f4f4f4"/><stop offset="0.45" stop-color="#e6e6e6"/><stop offset="0.5" stop-color="#d8d8d8"/><stop offset="1" stop-color="#d0d0d0"/></linearGradient>
</defs><rect x="0" y="46" width="212" height="60" fill="#fff"/><rect x="0" y="47" width="43" height="25" fill="url(#tab)"/><rect x="42" y="47" width="1" height="24" fill="#c40808"/><rect x="0" y="47" width="43" height="1" fill="#d02020"/><rect x="0" y="71" width="100" height="33" fill="url(#big)"/><rect x="99" y="71" width="1" height="33" fill="#b00808"/><rect x="0" y="103" width="100" height="1" fill="#a00000"/><rect x="0" y="70" width="39" height="1" fill="#a80808"/><rect x="0" y="71" width="39" height="1" fill="#ec6868"/><rect x="158" y="47" width="52" height="25" fill="url(#tab)"/><rect x="158" y="47" width="1" height="24" fill="#c40808"/><rect x="209" y="47" width="1" height="24" fill="#c40808"/><rect x="158" y="47" width="52" height="1" fill="#d02020"/><rect x="102" y="71" width="108" height="33" fill="url(#big)"/><rect x="102" y="71" width="1" height="33" fill="#b00808"/><rect x="209" y="71" width="1" height="33" fill="#b00808"/><rect x="102" y="103" width="108" height="1" fill="#a00000"/><rect x="162" y="70" width="44" height="1" fill="#a80808"/><rect x="162" y="71" width="44" height="1" fill="#ec6868"/><rect x="45.5" y="47.5" width="110" height="21" fill="#fff" stroke="#a8acb4" stroke-width="1"/><rect x="46.5" y="48.5" width="19.5" height="19" fill="url(#btn)"/><rect x="66" y="48" width="1" height="20" fill="#b4b8c0"/><rect x="135" y="48.5" width="20" height="19" fill="url(#btn)"/><rect x="134" y="48" width="1" height="20" fill="#b4b8c0"/><path d="M52.8,55.8h5.2l-2.6,3.2z" fill="#4a62c0"/><path d="M141.6,59h5.4l-2.7,-3.2z" fill="#4a62c0"/><g font-family='"Liberation Sans", sans-serif'><text x="107.6" y="61.7" font-size="11.5" fill="#101010" textLength="23.2" lengthAdjust="spacingAndGlyphs">1.00</text><text x="3.3" y="63" font-size="12" fill="#fff" textLength="25.6" lengthAdjust="spacingAndGlyphs">SELL</text><text x="171.7" y="63" font-size="12" fill="#fff" textLength="23.2" lengthAdjust="spacingAndGlyphs">BUY</text><text x="10.8" y="98.8" font-size="12.6" font-weight="bold" fill="#fff" textLength="23.6" lengthAdjust="spacingAndGlyphs">0.99</text><text x="120.9" y="98.8" font-size="12.6" font-weight="bold" fill="#fff" textLength="23.7" lengthAdjust="spacingAndGlyphs">0.99</text><text x="39" y="99.1" font-size="34.6" fill="#fff" stroke="url(#big)" stroke-width="0.7" textLength="33.5" lengthAdjust="spacingAndGlyphs">37</text><text x="148.3" y="99.2" font-size="34.6" fill="#fff" stroke="url(#big)" stroke-width="0.7" textLength="36" lengthAdjust="spacingAndGlyphs">40</text><text x="78.5" y="82.7" font-size="12.6" font-weight="bold" fill="#fff" textLength="6.2" lengthAdjust="spacingAndGlyphs">3</text><text x="189.4" y="82.7" font-size="12.6" font-weight="bold" fill="#fff" textLength="6.2" lengthAdjust="spacingAndGlyphs">5</text></g></svg>
</body></html>
